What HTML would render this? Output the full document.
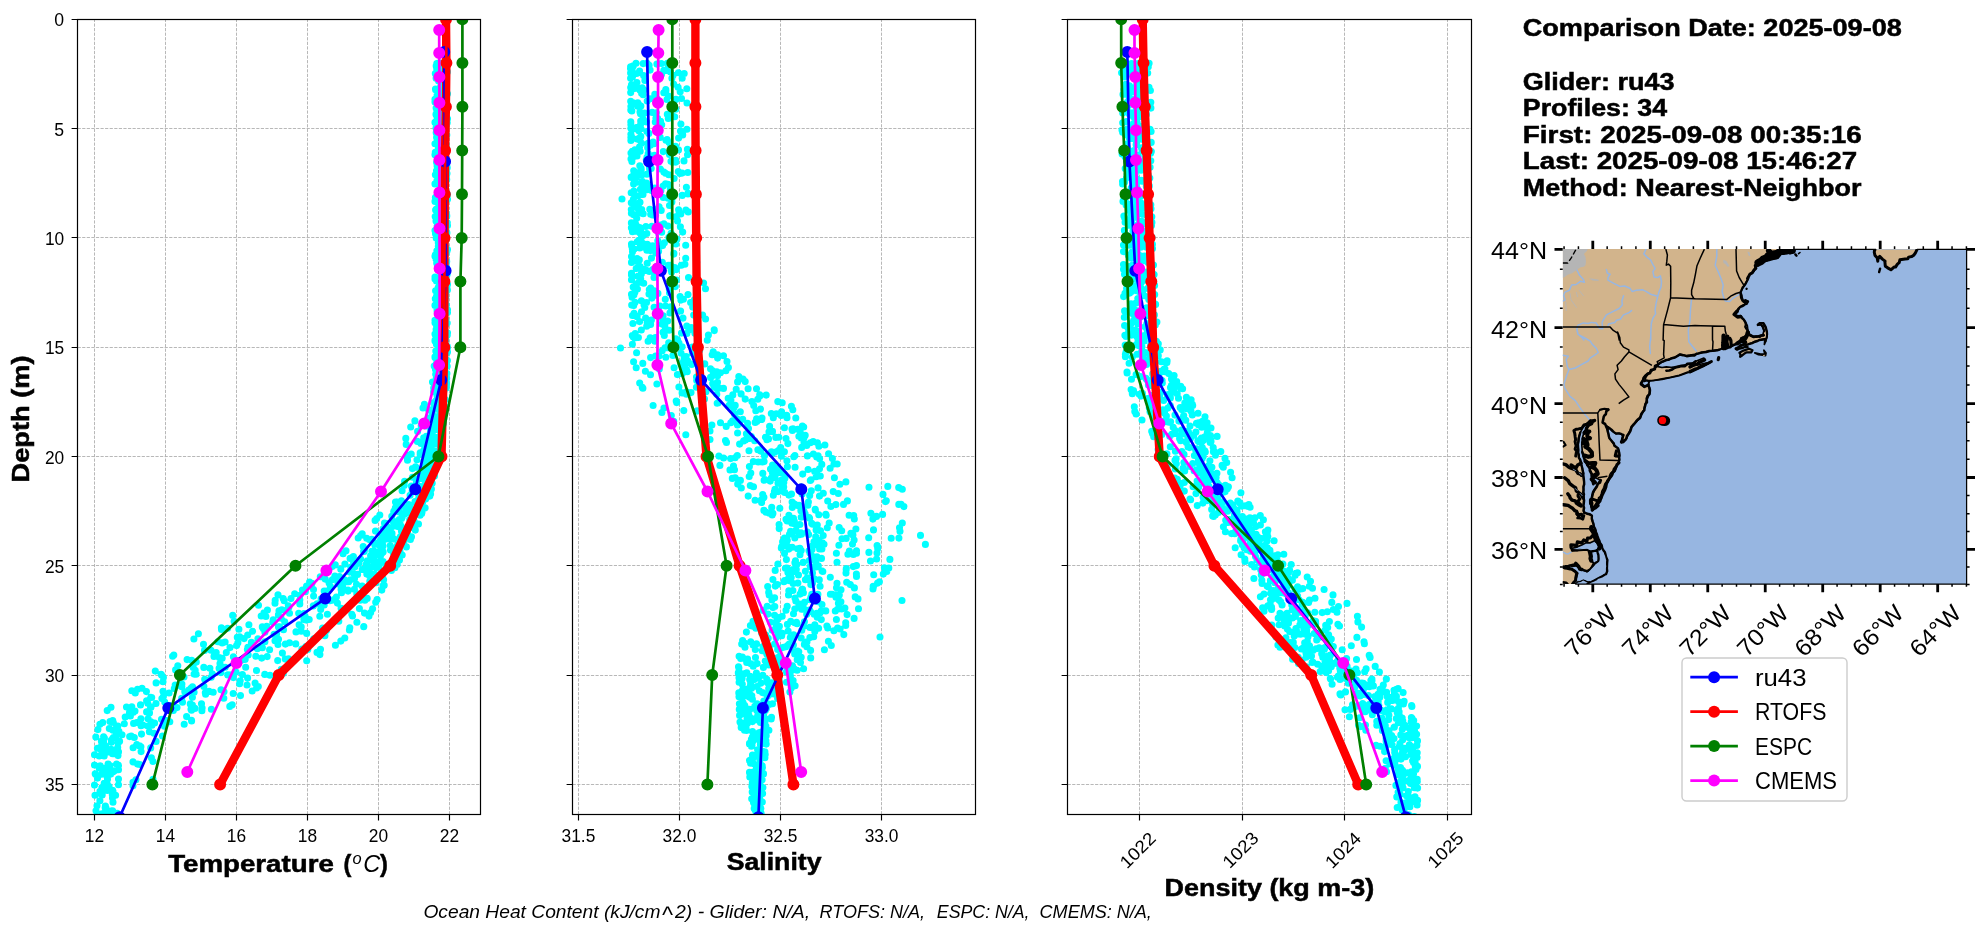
<!DOCTYPE html>
<html><head><meta charset="utf-8"><title>Glider comparison</title>
<style>html,body{margin:0;padding:0;background:#fff}svg{display:block;will-change:transform}</style></head>
<body>
<svg width="1980" height="934" viewBox="0 0 1980 934" font-family="'Liberation Sans', sans-serif">
<rect width="1980" height="934" fill="#fff"/>
<defs>
<clipPath id="c0"><rect x="77.6" y="19.3" width="403.00" height="795.10"/></clipPath>
<clipPath id="c1"><rect x="572.6" y="19.3" width="403.00" height="795.10"/></clipPath>
<clipPath id="c2"><rect x="1067.6" y="19.3" width="403.60" height="795.10"/></clipPath>
</defs>
<path d="M94.5 814.4V19.3M165.5 814.4V19.3M236.5 814.4V19.3M307.5 814.4V19.3M378.5 814.4V19.3M449.5 814.4V19.3M77.6 19.5H480.6M77.6 128.5H480.6M77.6 237.5H480.6M77.6 347.5H480.6M77.6 456.5H480.6M77.6 565.5H480.6M77.6 675.5H480.6M77.6 784.5H480.6" fill="none" stroke="#b0b0b0" stroke-width="0.9" stroke-dasharray="3.2 1.38"/>
<g clip-path="url(#c0)">
<path d="M439.0 70.1h0M437.1 95.3h0M437.6 117.4h0M438.1 136.3h0M438.4 162.9h0M438.2 183.9h0M439.3 203.7h0M439.0 227.5h0M437.1 254.4h0M438.9 280.0h0M438.8 299.3h0M438.1 324.4h0M438.4 350.2h0M436.3 371.1h0M433.7 388.1h0M423.0 408.0h0M425.8 426.0h0M421.0 443.4h0M407.4 459.1h0M412.5 477.2h0M412.2 491.1h0M398.3 507.8h0M384.5 523.1h0M369.3 539.6h0M353.4 556.6h0M340.8 569.2h0M311.9 583.4h0M275.2 600.3h0M264.0 612.7h0M227.6 628.2h0M222.2 642.9h0M187.1 659.6h0M161.5 674.9h0M142.0 688.2h0M146.6 700.8h0M125.2 717.0h0M103.6 736.8h0M104.2 756.0h0M95.5 774.2h0M102.2 795.1h0M443.8 75.2h0M444.1 97.5h0M444.7 114.4h0M442.9 136.7h0M444.0 151.7h0M442.0 171.4h0M443.2 192.4h0M442.3 210.6h0M444.0 232.8h0M443.7 250.4h0M445.2 271.9h0M444.6 292.1h0M444.3 309.8h0M444.0 325.9h0M443.3 342.8h0M442.8 358.0h0M444.1 372.5h0M443.6 389.4h0M439.9 404.7h0M440.2 417.1h0M438.5 428.7h0M435.5 440.5h0M434.0 454.5h0M431.0 469.2h0M428.0 484.4h0M425.6 499.0h0M421.7 513.4h0M411.2 527.4h0M400.4 541.3h0M400.0 551.6h0M397.2 564.4h0M379.8 574.8h0M383.0 585.9h0M364.9 600.3h0M364.5 613.1h0M363.7 626.7h0M344.8 638.0h0M320.5 649.2h0M306.7 660.8h0M264.8 674.4h0M247.0 685.0h0M223.8 698.2h0M211.4 709.3h0M169.8 721.8h0M134.3 737.5h0M116.0 754.0h0M118.5 769.8h0M118.5 784.8h0M445.5 72.7h0M445.6 99.7h0M446.0 119.4h0M445.8 144.0h0M447.2 167.8h0M447.5 194.5h0M447.3 222.7h0M446.3 250.3h0M447.1 274.6h0M445.8 297.2h0M447.2 323.0h0M447.5 347.7h0M447.2 366.3h0M446.5 383.9h0M444.8 406.6h0M443.4 424.1h0M440.4 441.8h0M433.6 460.5h0M430.6 478.7h0M430.6 494.1h0M420.4 512.9h0M415.3 530.1h0M406.4 546.9h0M397.4 561.4h0M383.6 579.8h0M367.2 598.4h0M351.8 614.3h0M326.4 630.5h0M307.8 649.5h0M284.7 668.5h0M258.3 686.6h0M201.5 703.8h0M186.6 716.6h0M149.4 731.8h0M141.1 751.6h0M443.0 65.4h0M441.4 80.5h0M441.4 100.0h0M441.0 120.3h0M440.8 137.9h0M440.7 156.0h0M441.5 175.3h0M441.3 193.7h0M441.8 213.3h0M441.5 230.3h0M441.2 249.4h0M441.1 264.8h0M439.9 284.5h0M442.2 301.3h0M442.5 322.6h0M442.3 340.8h0M441.6 359.3h0M442.2 375.3h0M441.3 392.5h0M438.6 406.6h0M436.4 419.2h0M431.4 434.0h0M430.6 449.2h0M428.4 464.2h0M422.0 478.7h0M423.4 492.7h0M409.9 506.0h0M398.7 520.2h0M389.2 534.4h0M379.8 545.6h0M374.0 556.4h0M367.5 568.3h0M354.5 578.8h0M341.1 589.6h0M317.1 603.7h0M305.1 616.2h0M283.5 629.7h0M264.9 641.8h0M248.2 655.0h0M219.1 668.2h0M204.7 679.2h0M184.8 691.7h0M164.7 702.0h0M146.6 711.9h0M133.6 723.5h0M112.8 738.2h0M102.0 751.0h0M108.1 764.1h0M107.2 777.0h0M112.6 790.4h0M105.9 807.7h0M110.2 824.3h0M436.8 63.5h0M435.6 89.8h0M436.0 114.4h0M436.2 132.7h0M435.0 154.8h0M435.4 174.7h0M435.4 197.5h0M436.6 218.8h0M436.2 238.1h0M435.9 258.7h0M435.0 277.0h0M437.5 302.2h0M436.5 325.5h0M436.4 344.2h0M434.2 366.1h0M434.2 384.8h0M424.4 404.4h0M414.9 420.9h0M405.8 438.4h0M407.1 455.2h0M412.4 468.6h0M404.1 485.4h0M395.5 502.1h0M376.7 518.6h0M360.6 535.5h0M345.7 551.0h0M335.3 564.9h0M309.6 582.1h0M283.2 598.6h0M265.9 616.5h0M221.5 629.5h0M203.5 644.2h0M191.7 660.3h0M179.2 673.5h0M146.4 691.6h0M131.8 706.8h0M113.3 722.5h0M104.4 738.1h0M441.1 67.5h0M441.1 85.1h0M440.3 101.3h0M441.0 120.0h0M440.6 140.6h0M440.4 155.6h0M440.9 173.0h0M442.0 193.0h0M441.8 207.3h0M441.3 227.8h0M441.1 245.1h0M441.5 264.2h0M441.0 281.2h0M440.8 297.9h0M441.1 313.9h0M441.2 331.8h0M441.1 348.0h0M441.4 365.7h0M442.2 379.6h0M442.6 392.2h0M437.7 409.3h0M435.0 424.6h0M432.9 439.4h0M429.7 452.6h0M428.9 464.9h0M426.7 478.8h0M424.9 491.3h0M415.6 502.5h0M404.5 514.3h0M394.7 525.9h0M380.6 539.7h0M374.5 551.7h0M367.5 561.5h0M354.1 573.8h0M330.4 586.6h0M299.8 600.0h0M298.7 613.3h0M266.7 626.2h0M257.9 638.7h0M247.4 649.6h0M196.3 662.1h0M196.1 674.3h0M181.8 686.8h0M161.9 698.6h0M149.5 712.9h0M133.6 723.4h0M113.4 737.5h0M103.3 750.4h0M107.5 766.6h0M107.5 779.2h0M101.3 793.9h0M105.2 807.7h0M100.0 821.6h0M436.1 78.3h0M435.0 99.4h0M435.0 122.4h0M435.0 143.7h0M436.5 170.7h0M435.0 201.4h0M435.0 230.6h0M435.0 256.3h0M435.0 279.1h0M435.0 305.4h0M435.0 334.0h0M435.0 356.7h0M432.5 382.1h0M423.1 407.7h0M410.7 427.0h0M406.2 444.4h0M407.5 460.3h0M404.6 481.4h0M401.4 500.7h0M379.8 515.1h0M362.2 533.8h0M346.0 550.8h0M332.1 566.6h0M306.6 586.1h0M258.5 605.2h0M234.1 621.3h0M193.9 639.0h0M172.6 656.2h0M161.1 674.2h0M137.5 689.2h0M111.0 707.3h0M99.9 724.2h0M97.4 748.2h0M95.2 773.8h0M446.9 64.1h0M444.4 91.8h0M445.1 114.8h0M446.1 144.4h0M447.0 166.9h0M444.6 189.2h0M443.8 210.0h0M446.2 235.5h0M446.7 261.5h0M447.5 284.6h0M447.5 309.7h0M445.8 333.0h0M447.4 360.6h0M445.9 387.2h0M443.3 404.7h0M441.9 426.6h0M439.6 445.2h0M437.2 460.3h0M434.5 476.1h0M429.8 496.1h0M422.0 512.3h0M407.4 532.7h0M394.6 548.3h0M378.8 567.0h0M369.8 581.2h0M360.1 600.3h0M352.5 615.9h0M324.9 635.7h0M317.0 652.4h0M281.3 669.2h0M221.0 689.7h0M202.1 708.1h0M164.4 726.3h0M150.7 747.9h0M444.0 63.3h0M445.9 83.3h0M443.8 106.8h0M445.8 127.5h0M444.6 153.1h0M446.7 179.5h0M442.4 203.4h0M444.5 230.7h0M443.8 258.8h0M445.1 281.6h0M445.3 301.2h0M445.8 324.8h0M447.3 346.4h0M445.5 365.2h0M446.5 384.3h0M444.1 405.5h0M442.8 421.5h0M440.5 443.8h0M435.5 462.0h0M431.2 480.9h0M426.6 494.9h0M419.5 508.9h0M414.5 525.0h0M403.8 542.5h0M399.5 560.1h0M382.9 578.4h0M356.8 593.7h0M359.4 608.6h0M356.9 622.2h0M314.3 639.1h0M288.6 658.9h0M247.6 678.1h0M233.2 693.5h0M201.9 710.7h0M165.0 725.5h0M139.6 745.9h0M139.8 764.5h0M133.0 785.8h0M441.1 78.0h0M443.9 97.9h0M445.5 119.0h0M444.4 143.2h0M443.5 162.4h0M442.7 186.0h0M443.3 211.1h0M442.7 229.5h0M443.2 250.6h0M443.4 275.4h0M442.9 293.4h0M443.1 317.0h0M441.6 340.3h0M440.3 357.8h0M441.3 380.5h0M440.2 402.0h0M438.4 419.1h0M435.0 437.4h0M431.2 452.3h0M431.0 468.3h0M426.7 481.5h0M420.8 497.4h0M413.0 510.4h0M401.3 526.5h0M386.4 539.0h0M374.0 554.9h0M362.2 569.5h0M338.0 583.9h0M323.1 599.9h0M304.0 613.6h0M279.5 626.7h0M251.4 642.3h0M235.4 659.8h0M211.2 677.2h0M206.0 691.5h0M190.3 703.9h0M148.1 718.8h0M122.0 734.8h0M111.7 749.6h0M109.9 765.5h0M107.2 784.1h0M113.0 802.3h0M107.5 823.4h0M443.3 68.2h0M444.3 85.1h0M443.8 104.9h0M443.4 122.8h0M443.7 146.7h0M441.9 169.6h0M440.6 189.6h0M442.3 210.4h0M440.1 228.0h0M441.2 246.1h0M441.6 265.0h0M441.4 287.4h0M442.7 311.5h0M444.0 333.3h0M444.4 352.4h0M444.4 370.0h0M444.2 386.9h0M439.9 405.9h0M438.0 422.4h0M434.2 439.9h0M432.4 453.4h0M430.9 465.4h0M430.6 478.6h0M425.2 492.4h0M419.1 504.1h0M409.7 519.8h0M401.5 531.3h0M390.3 545.5h0M381.5 561.7h0M369.2 574.8h0M348.1 591.1h0M324.2 605.0h0M309.2 619.5h0M301.2 631.3h0M278.0 644.5h0M244.9 659.4h0M227.8 674.9h0M209.1 691.4h0M192.4 705.0h0M161.5 719.3h0M131.2 736.0h0M112.5 753.8h0M110.8 774.1h0M115.6 795.3h0M110.9 811.1h0M445.4 66.8h0M444.4 83.3h0M444.7 99.2h0M444.6 118.1h0M443.5 136.4h0M444.1 155.7h0M444.3 172.1h0M443.4 189.1h0M443.8 208.8h0M443.3 227.2h0M444.1 249.0h0M442.7 266.9h0M441.4 287.7h0M442.4 308.2h0M444.7 325.9h0M442.3 345.6h0M442.1 364.4h0M442.4 379.5h0M442.2 395.4h0M440.0 413.2h0M435.7 429.7h0M434.0 443.3h0M431.6 457.5h0M428.9 471.3h0M426.5 484.6h0M419.2 499.8h0M411.3 512.6h0M400.2 524.3h0M390.8 539.0h0M380.0 551.6h0M378.0 562.1h0M366.8 574.0h0M356.5 584.2h0M327.1 597.7h0M320.7 609.5h0M306.5 620.1h0M296.0 631.9h0M289.5 642.7h0M282.4 653.1h0M245.7 667.2h0M240.2 680.7h0M205.6 694.2h0M191.0 709.3h0M166.6 720.5h0M129.7 736.6h0M118.5 751.9h0M118.5 765.4h0M118.5 779.0h0M112.3 794.8h0M117.2 813.3h0M436.2 65.9h0M435.5 89.0h0M436.1 108.0h0M436.6 132.3h0M437.9 155.9h0M436.7 183.1h0M435.6 210.0h0M436.7 236.3h0M435.7 256.9h0M437.0 279.0h0M436.2 303.7h0M435.0 322.7h0M435.0 341.1h0M436.5 363.4h0M437.9 384.0h0M434.0 403.3h0M428.1 418.1h0M423.7 437.9h0M420.2 452.9h0M420.7 469.6h0M411.3 486.0h0M397.1 502.2h0M375.1 520.4h0M358.2 538.0h0M343.1 553.7h0M328.3 570.5h0M311.2 584.2h0M291.0 598.6h0M279.0 610.9h0M238.9 629.2h0M217.9 641.8h0M219.3 657.6h0M194.1 674.1h0M163.0 691.3h0M150.5 706.8h0M112.7 720.5h0M101.4 741.2h0M94.5 765.0h0M94.5 785.1h0M97.0 805.7h0M100.9 824.4h0M444.1 78.2h0M445.3 97.0h0M444.8 115.5h0M443.8 135.9h0M442.8 156.7h0M444.6 175.0h0M444.3 195.8h0M444.5 212.4h0M445.9 231.0h0M447.0 251.1h0M446.6 267.1h0M447.0 288.2h0M445.5 308.3h0M445.6 323.2h0M445.7 338.6h0M445.2 359.1h0M444.2 372.1h0M443.6 387.0h0M442.6 400.1h0M440.7 415.9h0M439.6 428.4h0M436.5 439.8h0M434.7 450.8h0M432.4 461.1h0M432.1 475.8h0M430.4 485.7h0M422.3 498.3h0M414.7 512.4h0M398.4 526.7h0M394.1 539.1h0M381.8 553.3h0M388.5 565.7h0M369.3 575.6h0M354.4 589.2h0M332.8 600.1h0M327.4 614.2h0M322.6 628.0h0M313.7 638.7h0M301.9 649.1h0M294.4 659.8h0M282.4 672.4h0M255.1 683.0h0M240.5 695.6h0M229.8 706.4h0M191.5 720.4h0M154.0 733.3h0M140.9 746.7h0M137.6 764.1h0M133.0 782.3h0M442.7 78.3h0M444.0 99.1h0M445.3 126.6h0M445.2 152.6h0M445.6 173.7h0M443.9 197.4h0M445.1 222.7h0M445.6 246.8h0M446.0 272.6h0M443.4 298.4h0M443.7 317.4h0M444.7 339.2h0M445.2 359.4h0M444.7 382.1h0M443.0 401.3h0M439.7 419.2h0M432.3 436.4h0M429.1 453.6h0M429.0 470.5h0M426.8 485.0h0M415.7 501.9h0M399.0 520.8h0M389.4 536.8h0M375.8 551.7h0M372.8 566.6h0M347.6 581.7h0M325.8 596.2h0M303.7 614.7h0M264.9 632.2h0M262.4 647.8h0M238.2 661.7h0M231.0 675.0h0M194.1 692.2h0M166.7 708.3h0M141.0 725.8h0M118.2 743.1h0M116.6 764.0h0M109.1 786.5h0M112.6 810.7h0M441.1 63.2h0M439.4 88.4h0M441.5 116.0h0M441.5 143.7h0M439.7 163.0h0M442.3 184.5h0M440.8 212.2h0M441.3 237.9h0M441.7 264.7h0M440.5 286.2h0M438.8 313.4h0M438.3 334.7h0M438.2 362.4h0M438.5 385.6h0M435.2 405.7h0M429.6 424.7h0M427.1 444.0h0M417.0 459.7h0M422.2 475.5h0M418.2 493.3h0M399.2 512.1h0M383.1 528.8h0M374.7 544.5h0M358.8 563.3h0M343.4 582.4h0M321.1 598.8h0M289.5 613.3h0M278.5 626.9h0M236.6 645.6h0M220.0 663.6h0M184.0 677.0h0M169.1 693.0h0M147.5 711.5h0M118.9 731.2h0M100.9 749.4h0M101.7 774.2h0M441.9 72.8h0M443.5 91.3h0M443.6 111.1h0M443.7 129.6h0M443.0 147.4h0M442.7 166.6h0M441.7 181.7h0M442.0 196.3h0M441.8 213.9h0M442.2 234.9h0M443.7 251.2h0M442.9 268.6h0M443.7 284.3h0M442.6 300.5h0M441.5 316.5h0M442.6 337.5h0M442.8 356.9h0M443.8 372.2h0M441.0 389.7h0M441.0 404.3h0M438.4 419.2h0M432.7 431.5h0M429.7 445.7h0M427.7 459.2h0M426.1 472.9h0M425.2 486.1h0M419.7 496.7h0M409.6 510.8h0M397.2 525.0h0M391.8 535.8h0M383.0 546.0h0M380.4 556.2h0M376.5 567.6h0M348.7 581.7h0M341.5 592.7h0M337.4 603.1h0M319.8 616.3h0M301.2 626.9h0M278.5 639.3h0M269.6 649.8h0M237.5 662.2h0M236.0 672.1h0M203.9 686.4h0M181.7 698.4h0M173.3 710.5h0M142.9 725.0h0M119.6 741.2h0M118.0 755.6h0M112.8 772.0h0M437.9 70.4h0M439.0 89.9h0M438.9 115.7h0M438.5 142.2h0M437.1 166.0h0M437.7 194.0h0M436.0 221.0h0M438.3 242.7h0M437.8 267.6h0M438.2 287.5h0M438.1 306.5h0M438.1 328.7h0M437.2 350.8h0M435.5 369.6h0M437.5 387.4h0M434.1 407.4h0M429.2 424.8h0M428.7 441.2h0M426.9 460.0h0M423.5 478.4h0M420.0 493.8h0M405.0 512.8h0M390.4 527.9h0M375.1 542.8h0M360.1 559.6h0M339.5 576.6h0M313.5 589.5h0M288.3 605.7h0M273.2 619.8h0M239.7 636.8h0M216.2 652.6h0M203.8 667.4h0M163.0 681.7h0M150.8 697.3h0M135.0 711.1h0M116.4 728.3h0M105.6 746.1h0M439.9 75.5h0M438.3 94.2h0M439.3 117.9h0M437.9 135.7h0M439.6 157.7h0M438.2 180.8h0M438.5 200.6h0M438.8 224.5h0M440.2 247.2h0M440.0 263.6h0M440.1 282.7h0M441.0 306.2h0M440.2 327.4h0M440.9 346.0h0M440.6 363.5h0M440.8 379.2h0M440.1 393.3h0M438.5 407.8h0M432.5 423.1h0M430.8 437.0h0M429.4 450.5h0M426.9 465.2h0M423.9 479.2h0M421.7 494.5h0M408.0 510.8h0M396.4 521.9h0M391.5 537.0h0M373.6 550.8h0M366.1 564.5h0M344.4 579.7h0M326.4 591.0h0M313.3 605.9h0M284.7 621.8h0M276.6 634.0h0M247.9 647.3h0M245.2 659.3h0M220.9 672.6h0M192.5 686.9h0M182.5 702.3h0M140.9 718.7h0M115.8 736.0h0M108.1 751.9h0M108.2 770.3h0M107.3 790.5h0M105.4 806.1h0M441.4 73.5h0M440.6 94.4h0M440.8 113.6h0M440.6 135.0h0M441.1 157.4h0M440.9 177.1h0M439.3 200.3h0M440.1 225.1h0M440.5 249.7h0M440.9 272.7h0M440.1 298.3h0M439.9 321.9h0M440.2 346.4h0M440.3 368.4h0M439.9 388.4h0M438.5 407.4h0M434.5 425.3h0M431.3 438.5h0M429.7 456.7h0M427.0 473.3h0M426.9 486.2h0M418.7 498.3h0M406.7 513.0h0M390.7 528.0h0M381.8 543.2h0M372.7 560.4h0M357.6 574.4h0M342.7 587.0h0M334.0 599.6h0M303.8 617.0h0M274.1 634.4h0M257.3 648.7h0M240.8 660.5h0M212.3 673.9h0M188.8 690.1h0M169.8 705.5h0M136.8 722.5h0M111.4 740.0h0M438.6 63.6h0M439.8 93.2h0M440.2 121.7h0M440.0 151.8h0M441.4 182.4h0M440.6 210.8h0M441.1 243.4h0M440.0 268.5h0M440.2 298.5h0M440.0 329.6h0M439.9 358.9h0M438.8 381.8h0M437.2 405.5h0M433.0 423.9h0M425.3 446.1h0M424.0 465.3h0M419.9 486.5h0M407.2 508.3h0M387.7 530.0h0M364.4 550.6h0M355.0 566.7h0M329.1 582.9h0M284.2 600.8h0M281.1 618.2h0M247.7 635.0h0M211.0 650.3h0M175.6 669.9h0M175.2 685.1h0M140.5 704.9h0M110.0 721.5h0M102.9 743.1h0M104.6 770.7h0M100.0 791.2h0M436.7 76.9h0M437.2 99.5h0M437.1 117.7h0M436.6 137.4h0M438.4 158.0h0M437.4 179.9h0M440.1 198.3h0M438.9 224.8h0M438.7 243.6h0M437.7 269.2h0M436.9 291.1h0M437.0 309.3h0M435.5 335.3h0M437.2 360.5h0M434.8 384.2h0M433.3 402.8h0M425.8 422.0h0M424.1 442.4h0M424.1 461.5h0M421.7 478.5h0M418.8 492.0h0M395.4 507.8h0M394.5 521.6h0M384.9 534.0h0M364.2 551.5h0M344.9 564.1h0M333.5 579.1h0M300.0 595.3h0M281.8 609.8h0M272.8 622.2h0M244.1 638.6h0M226.3 652.6h0M193.2 667.4h0M179.4 685.4h0M147.8 703.2h0M130.4 716.0h0M113.0 730.2h0M101.1 746.9h0M99.2 768.0h0M101.9 787.6h0M107.5 811.2h0M445.9 70.4h0M447.5 93.8h0M447.2 122.7h0M446.8 148.5h0M447.0 173.6h0M447.5 199.2h0M447.5 225.5h0M447.5 249.5h0M446.9 268.9h0M447.4 290.1h0M447.5 312.6h0M447.5 332.8h0M447.5 352.1h0M446.7 378.3h0M445.3 399.5h0M443.7 419.0h0M438.9 437.6h0M437.6 453.8h0M433.2 473.5h0M431.4 489.0h0M425.1 507.9h0M418.5 524.0h0M410.4 539.4h0M402.2 555.0h0M391.4 570.5h0M381.8 590.1h0M372.6 608.8h0M363.8 626.5h0M340.8 641.1h0M319.9 654.6h0M283.3 673.3h0M252.2 691.0h0M231.4 705.3h0M184.2 724.3h0M156.1 741.4h0M153.0 761.5h0M153.0 779.8h0M437.6 63.3h0M438.6 81.0h0M438.0 104.1h0M438.8 122.7h0M437.3 140.8h0M436.6 162.6h0M435.0 183.9h0M437.4 208.2h0M437.2 226.1h0M438.3 246.5h0M436.7 263.0h0M436.4 280.9h0M435.3 298.7h0M435.0 320.3h0M435.0 340.3h0M435.0 357.6h0M435.7 374.3h0M434.1 391.1h0M428.7 409.9h0M421.2 425.7h0M417.4 441.4h0M411.2 454.1h0M416.0 467.3h0M417.7 478.8h0M402.1 490.8h0M397.4 502.3h0M391.8 516.3h0M375.5 531.1h0M363.2 546.6h0M353.6 562.8h0M334.9 576.1h0M302.4 590.1h0M299.8 603.9h0M278.4 614.9h0M252.6 631.3h0M252.7 644.9h0M233.4 656.8h0M209.9 668.2h0M181.9 684.0h0M163.4 696.6h0M129.5 712.5h0M117.8 726.1h0M103.6 742.6h0M442.8 71.1h0M441.6 95.6h0M443.4 127.5h0M443.8 159.9h0M443.5 183.7h0M443.8 207.7h0M444.3 236.9h0M443.1 266.2h0M443.7 291.4h0M443.1 314.5h0M442.4 341.9h0M442.0 372.9h0M441.8 395.7h0M436.7 416.9h0M429.7 436.2h0M429.7 453.8h0M426.8 470.0h0M421.7 486.9h0M408.7 504.5h0M393.5 522.4h0M382.3 539.5h0M367.3 560.8h0M350.3 579.7h0M329.9 600.7h0M303.9 619.6h0M275.0 640.7h0M255.8 656.3h0M242.4 674.6h0M205.3 692.8h0M177.0 707.6h0M147.9 726.1h0M111.0 749.3h0M110.0 773.1h0M112.5 798.0h0M116.8 824.5h0M444.1 73.1h0M441.4 97.9h0M442.1 124.1h0M442.5 150.2h0M443.5 176.2h0M443.6 200.7h0M442.4 225.8h0M443.3 246.1h0M442.5 271.4h0M442.0 297.3h0M442.6 320.7h0M443.9 349.1h0M443.5 373.9h0M443.1 395.1h0M439.6 411.5h0M435.8 428.1h0M433.8 443.9h0M428.9 465.3h0M425.5 482.6h0M415.0 501.6h0M402.2 517.2h0M392.0 533.4h0M383.1 551.9h0M369.2 570.7h0M348.0 590.0h0M321.2 605.3h0M299.1 624.8h0M285.4 644.1h0M261.7 658.1h0M233.4 677.6h0M224.0 691.7h0M191.5 710.2h0M152.0 725.2h0M117.7 747.6h0M114.1 770.9h0M113.0 791.2h0M112.3 816.9h0M436.7 68.5h0M438.0 92.4h0M436.7 110.0h0M436.4 129.5h0M438.4 151.6h0M436.8 175.8h0M437.6 192.9h0M437.3 211.4h0M437.4 228.7h0M436.9 250.8h0M438.2 268.1h0M437.8 292.9h0M437.1 310.9h0M436.1 329.5h0M438.2 350.2h0M437.0 370.3h0M439.7 386.8h0M435.9 400.9h0M431.1 420.9h0M426.3 436.2h0M424.0 449.9h0M415.5 466.8h0M416.4 481.5h0M410.1 495.3h0M393.7 511.4h0M387.1 526.6h0M371.8 539.3h0M363.6 551.6h0M350.8 567.3h0M332.3 579.7h0M294.7 593.7h0M267.4 610.1h0M248.9 624.8h0M237.3 637.3h0M204.5 650.4h0M177.8 665.8h0M163.4 677.6h0M135.3 693.0h0M126.5 707.0h0M102.7 722.6h0M95.8 737.1h0M99.2 756.0h0M97.5 778.1h0M95.0 795.2h0M96.0 810.7h0M438.9 74.2h0M437.4 96.7h0M438.9 113.5h0M438.1 130.7h0M438.2 149.0h0M437.6 168.1h0M438.6 192.8h0M435.2 216.5h0M436.1 234.0h0M435.4 254.8h0M435.4 278.8h0M436.5 296.3h0M438.3 320.3h0M437.4 340.1h0M435.7 357.9h0M436.3 377.8h0M437.1 395.6h0M432.5 414.4h0M430.6 430.9h0M427.9 447.3h0M424.2 464.7h0M425.7 480.1h0M420.8 493.7h0M410.4 507.7h0M399.2 519.6h0M382.3 534.6h0M371.9 551.3h0M352.2 566.5h0M325.2 579.1h0M305.4 591.7h0M275.0 603.2h0M261.2 616.0h0M221.4 627.9h0M225.1 642.0h0M214.0 656.4h0M195.2 670.2h0M156.1 682.9h0M151.7 697.5h0M133.4 712.2h0M109.3 728.6h0M101.9 744.0h0M100.2 765.7h0M104.2 783.4h0M99.9 800.8h0M102.2 819.2h0M439.2 76.8h0M438.1 106.4h0M438.7 132.5h0M439.4 158.9h0M441.3 188.3h0M440.5 218.2h0M440.8 244.6h0M440.9 264.6h0M441.6 287.3h0M440.5 314.1h0M440.6 337.4h0M439.4 357.3h0M441.1 382.4h0M439.2 400.4h0M434.6 420.4h0M427.5 439.7h0M426.8 456.4h0M425.0 473.8h0M420.1 493.3h0M409.8 509.2h0M398.9 524.1h0M382.4 543.6h0M360.6 559.0h0M337.1 577.1h0M313.6 596.1h0M287.0 609.9h0M262.3 626.9h0M237.9 642.7h0M222.2 658.3h0M195.2 673.8h0M174.3 688.6h0M156.0 703.5h0M124.3 723.7h0M111.4 742.3h0M105.4 768.3h0M106.4 789.7h0M101.9 813.7h0M435.3 73.5h0M435.0 101.9h0M436.0 128.1h0M435.3 152.3h0M437.1 180.1h0M436.1 209.2h0M435.5 233.8h0M437.3 264.9h0M435.6 290.7h0M436.3 321.5h0M435.8 351.0h0M436.8 372.5h0M433.6 391.7h0M431.0 410.0h0M417.6 431.4h0M420.2 454.4h0M420.1 473.5h0M414.8 491.5h0M401.9 506.4h0M385.8 523.4h0M366.7 538.2h0M350.1 558.4h0M320.3 576.7h0M278.0 594.9h0M232.7 615.4h0M198.4 633.7h0M173.8 655.1h0M155.3 671.1h0M131.8 690.8h0M107.2 710.6h0M97.9 729.6h0M94.5 754.8h0M445.6 63.2h0M444.7 83.8h0M443.7 110.8h0M444.1 134.9h0M444.6 162.1h0M444.4 188.0h0M446.1 212.5h0M444.1 232.0h0M444.4 252.5h0M444.3 274.6h0M443.7 294.6h0M444.1 314.3h0M444.0 340.2h0M444.0 365.9h0M443.5 387.2h0M441.4 405.8h0M436.9 425.6h0M436.4 443.3h0M433.2 461.5h0M432.5 475.9h0M428.5 493.1h0M415.2 511.3h0M405.7 529.4h0M397.5 545.3h0M385.9 564.8h0M376.0 582.8h0M375.7 602.3h0M369.0 616.1h0M349.4 630.0h0M305.9 646.5h0M277.7 660.6h0M229.8 675.0h0M213.2 692.2h0M172.5 706.4h0M154.6 723.0h0M136.8 744.6h0M440.3 72.8h0M440.8 96.6h0M440.5 119.1h0M440.4 149.8h0M440.1 180.0h0M441.1 212.0h0M441.5 235.7h0M439.9 268.6h0M438.6 290.8h0M439.0 318.7h0M439.2 343.0h0M440.5 373.6h0M439.5 398.9h0M436.5 417.3h0M431.4 440.9h0M429.1 457.2h0M425.1 476.5h0M419.2 498.0h0M401.6 518.4h0M386.2 536.0h0M370.6 555.7h0M349.7 572.1h0M324.2 591.0h0M288.8 607.5h0M263.4 628.8h0M230.0 647.6h0M225.2 667.3h0M191.2 688.0h0M151.0 707.2h0M116.7 728.3h0M102.1 749.7h0M447.3 71.9h0M446.6 95.3h0M445.4 114.2h0M444.6 139.7h0M445.8 160.2h0M444.9 179.8h0M443.0 197.9h0M443.7 218.5h0M445.2 243.4h0M446.8 269.8h0M445.8 293.0h0M446.4 313.0h0M447.3 335.0h0M446.4 353.2h0M446.0 373.3h0M443.9 390.9h0M444.2 407.9h0M442.3 422.0h0M439.9 436.1h0M437.1 453.9h0M435.7 466.7h0M432.2 483.3h0M429.3 495.5h0M423.7 508.3h0M414.2 521.3h0M411.5 536.8h0M393.5 553.5h0M394.9 567.8h0M384.2 585.3h0M377.1 599.6h0M370.7 612.5h0M349.8 627.8h0M335.4 645.3h0M285.3 659.1h0M270.0 675.2h0M256.6 687.9h0M232.2 704.7h0M191.6 720.9h0M162.5 736.0h0M151.4 757.7h0M153.0 779.4h0M446.7 64.4h0M445.8 85.9h0M445.8 103.9h0M447.5 118.8h0M446.8 135.0h0M444.9 155.3h0M445.4 174.4h0M445.9 195.4h0M446.8 215.9h0M446.9 232.9h0M446.1 253.8h0M445.9 268.2h0M445.1 285.0h0M446.4 305.0h0M445.9 319.5h0M445.8 339.9h0M446.9 360.0h0M446.9 373.6h0M446.2 388.1h0M443.2 401.0h0M441.5 413.3h0M439.2 429.5h0M438.6 443.8h0M434.9 455.2h0M433.8 465.5h0M432.5 476.8h0M429.8 488.4h0M422.7 502.0h0M420.1 515.2h0M409.5 525.8h0M400.3 536.8h0M390.5 550.1h0M383.1 561.5h0M374.6 573.9h0M362.2 586.1h0M336.4 597.1h0M341.1 608.2h0M338.8 621.2h0M306.7 633.4h0M295.8 643.9h0M267.2 656.6h0M256.5 670.5h0M239.6 683.7h0M192.4 697.2h0M194.9 708.4h0M150.9 721.9h0M141.5 734.1h0M133.1 747.7h0M133.0 761.9h0M135.9 779.7h0" stroke="#00ffff" stroke-width="7.1" stroke-linecap="round" fill="none"/>
<polyline points="446.0,19.3 446.4,63.0 445.9,106.7 445.1,150.5 444.8,194.2 444.5,237.9 444.4,281.6 444.3,347.2 441.5,456.5 390.2,565.8 278.8,675.1 220.1,784.4" fill="none" stroke="#ff0000" stroke-width="8.4" stroke-linejoin="round"/>
<polyline points="444.2,52.1 445.1,161.4 445.6,270.7 441.2,380.0 415.3,489.3 325.2,598.6 168.3,707.9 119.6,817.2" fill="none" stroke="#0000ff" stroke-width="2.7" stroke-linejoin="round"/>
<path d="M444.2 52.1h0M445.1 161.4h0M445.6 270.7h0M441.2 380.0h0M415.3 489.3h0M325.2 598.6h0M168.3 707.9h0M119.6 817.2h0" stroke="#0000ff" stroke-width="12" stroke-linecap="round" fill="none"/>
<polyline points="446.0,19.3 446.4,63.0 445.9,106.7 445.1,150.5 444.8,194.2 444.5,237.9 444.4,281.6 444.3,347.2 441.5,456.5 390.2,565.8 278.8,675.1 220.1,784.4" fill="none" stroke="#ff0000" stroke-width="2.7" stroke-linejoin="round"/>
<path d="M446.0 19.3h0M446.4 63.0h0M445.9 106.7h0M445.1 150.5h0M444.8 194.2h0M444.5 237.9h0M444.4 281.6h0M444.3 347.2h0M441.5 456.5h0M390.2 565.8h0M278.8 675.1h0M220.1 784.4h0" stroke="#ff0000" stroke-width="12" stroke-linecap="round" fill="none"/>
<polyline points="462.4,19.3 462.4,63.0 462.4,106.7 462.2,150.5 462.0,194.2 461.7,237.9 460.4,281.6 460.4,347.2 438.4,456.5 295.5,565.8 179.9,675.1 152.4,784.4" fill="none" stroke="#008000" stroke-width="2.7" stroke-linejoin="round"/>
<path d="M462.4 19.3h0M462.4 63.0h0M462.4 106.7h0M462.2 150.5h0M462.0 194.2h0M461.7 237.9h0M460.4 281.6h0M460.4 347.2h0M438.4 456.5h0M295.5 565.8h0M179.9 675.1h0M152.4 784.4h0" stroke="#008000" stroke-width="12" stroke-linecap="round" fill="none"/>
<polyline points="439.2,30.1 439.2,53.0 439.4,77.1 439.4,102.8 439.4,130.3 439.4,160.1 439.4,192.6 439.5,228.6 439.6,268.6 439.6,313.7 439.1,364.9 424.2,423.6 381.0,491.5 326.4,570.4 236.5,663.0 187.3,772.0" fill="none" stroke="#ff00ff" stroke-width="2.7" stroke-linejoin="round"/>
<path d="M439.2 30.1h0M439.2 53.0h0M439.4 77.1h0M439.4 102.8h0M439.4 130.3h0M439.4 160.1h0M439.4 192.6h0M439.5 228.6h0M439.6 268.6h0M439.6 313.7h0M439.1 364.9h0M424.2 423.6h0M381.0 491.5h0M326.4 570.4h0M236.5 663.0h0M187.3 772.0h0" stroke="#ff00ff" stroke-width="12" stroke-linecap="round" fill="none"/>
</g>
<rect x="77.5" y="19.5" width="403.00" height="795.00" fill="none" stroke="#000" stroke-width="1.2"/>
<path d="M94.5 814.4v6M165.5 814.4v6M236.5 814.4v6M307.5 814.4v6M378.5 814.4v6M449.5 814.4v6M77.6 19.5h-6M77.6 128.5h-6M77.6 237.5h-6M77.6 347.5h-6M77.6 456.5h-6M77.6 565.5h-6M77.6 675.5h-6M77.6 784.5h-6" fill="none" stroke="#000" stroke-width="1.15"/>
<text x="94.40" y="841.90" font-size="17.66" text-anchor="middle" textLength="19.30" lengthAdjust="spacingAndGlyphs" fill="#000">12</text>
<text x="165.42" y="841.90" font-size="17.66" text-anchor="middle" textLength="19.30" lengthAdjust="spacingAndGlyphs" fill="#000">14</text>
<text x="236.44" y="841.90" font-size="17.66" text-anchor="middle" textLength="19.30" lengthAdjust="spacingAndGlyphs" fill="#000">16</text>
<text x="307.46" y="841.90" font-size="17.66" text-anchor="middle" textLength="19.30" lengthAdjust="spacingAndGlyphs" fill="#000">18</text>
<text x="378.48" y="841.90" font-size="17.66" text-anchor="middle" textLength="19.30" lengthAdjust="spacingAndGlyphs" fill="#000">20</text>
<text x="449.50" y="841.90" font-size="17.66" text-anchor="middle" textLength="19.30" lengthAdjust="spacingAndGlyphs" fill="#000">22</text>
<text x="64.20" y="26.30" font-size="17.66" text-anchor="end" fill="#000">0</text>
<text x="64.20" y="135.60" font-size="17.66" text-anchor="end" fill="#000">5</text>
<text x="64.20" y="244.90" font-size="17.66" text-anchor="end" textLength="19.30" lengthAdjust="spacingAndGlyphs" fill="#000">10</text>
<text x="64.20" y="354.20" font-size="17.66" text-anchor="end" textLength="19.30" lengthAdjust="spacingAndGlyphs" fill="#000">15</text>
<text x="64.20" y="463.50" font-size="17.66" text-anchor="end" textLength="19.30" lengthAdjust="spacingAndGlyphs" fill="#000">20</text>
<text x="64.20" y="572.80" font-size="17.66" text-anchor="end" textLength="19.30" lengthAdjust="spacingAndGlyphs" fill="#000">25</text>
<text x="64.20" y="682.10" font-size="17.66" text-anchor="end" textLength="19.30" lengthAdjust="spacingAndGlyphs" fill="#000">30</text>
<text x="64.20" y="791.40" font-size="17.66" text-anchor="end" textLength="19.30" lengthAdjust="spacingAndGlyphs" fill="#000">35</text>
<path d="M578.5 814.4V19.3M679.5 814.4V19.3M780.5 814.4V19.3M881.5 814.4V19.3M572.6 19.5H975.6M572.6 128.5H975.6M572.6 237.5H975.6M572.6 347.5H975.6M572.6 456.5H975.6M572.6 565.5H975.6M572.6 675.5H975.6M572.6 784.5H975.6" fill="none" stroke="#b0b0b0" stroke-width="0.9" stroke-dasharray="3.2 1.38"/>
<g clip-path="url(#c1)">
<path d="M650.1 70.1h0M654.5 97.1h0M660.6 121.3h0M653.1 142.0h0M660.3 169.0h0M654.8 188.0h0M661.2 210.4h0M661.7 232.3h0M673.9 253.2h0M654.0 277.5h0M665.3 299.3h0M667.7 321.1h0M672.7 343.5h0M687.9 361.0h0M717.5 382.2h0M745.2 399.1h0M756.6 418.9h0M775.8 437.4h0M793.8 456.8h0M784.3 474.1h0M801.2 487.1h0M807.9 505.2h0M809.6 518.3h0M823.2 535.5h0M819.6 549.0h0M817.5 566.8h0M819.3 579.9h0M832.1 594.3h0M825.8 610.9h0M814.8 624.9h0M805.4 643.0h0M798.8 656.0h0M797.1 670.2h0M791.3 688.0h0M767.4 705.6h0M764.9 722.9h0M760.3 741.6h0M759.9 760.4h0M759.4 782.0h0M759.8 798.6h0M673.1 75.2h0M663.8 92.8h0M656.3 112.8h0M658.0 132.6h0M663.3 151.6h0M663.9 172.0h0M660.9 190.3h0M669.5 205.5h0M663.9 223.7h0M675.9 243.9h0M696.7 262.3h0M696.5 277.6h0M688.0 294.6h0M693.7 315.1h0M708.4 335.1h0M717.6 354.7h0M725.9 370.8h0M748.1 388.7h0M782.2 402.7h0M786.7 415.2h0M784.4 427.7h0M810.3 442.7h0M828.6 453.8h0M830.1 468.3h0M811.0 479.8h0M833.2 491.6h0M835.9 504.6h0M849.1 515.3h0M855.9 529.0h0M852.5 544.1h0M853.4 554.5h0M846.2 569.6h0M837.0 583.3h0M830.4 594.2h0M844.9 608.1h0M854.1 618.4h0M833.9 630.8h0M807.0 641.8h0M779.6 656.3h0M780.1 667.4h0M789.8 680.2h0M775.7 690.9h0M763.7 704.3h0M764.7 718.4h0M763.8 734.9h0M764.9 751.9h0M762.4 767.6h0M761.8 787.1h0M678.4 72.7h0M667.0 99.5h0M661.7 124.8h0M675.6 146.2h0M678.3 171.5h0M663.3 197.5h0M658.5 225.0h0M647.3 244.3h0M647.2 263.2h0M650.6 288.0h0M663.1 315.7h0M675.8 338.8h0M704.8 363.9h0M723.5 388.4h0M755.8 410.8h0M772.5 431.4h0M778.4 450.5h0M770.5 469.1h0M783.8 482.5h0M809.7 495.4h0M804.1 511.6h0M816.7 528.0h0M824.0 544.3h0M815.8 557.9h0M822.8 571.5h0M820.1 586.2h0M818.0 601.7h0M821.3 619.6h0M813.7 636.7h0M810.6 650.4h0M773.4 664.2h0M776.4 678.6h0M767.5 696.3h0M757.9 714.7h0M760.3 732.2h0M759.7 755.3h0M649.1 65.4h0M644.9 80.5h0M647.2 101.0h0M646.5 121.9h0M637.2 139.1h0M646.3 159.7h0M641.7 174.9h0M638.4 195.8h0M652.4 215.0h0M643.2 235.4h0M656.2 250.9h0M671.2 270.3h0M654.2 290.7h0M659.9 306.1h0M662.0 323.9h0M677.6 339.9h0M686.1 356.5h0M686.5 369.9h0M716.0 387.7h0M753.7 405.5h0M761.7 419.5h0M769.0 431.7h0M780.7 447.5h0M762.4 461.9h0M772.4 472.7h0M779.4 483.4h0M883.0 494.4h0M903.9 506.6h0M876.5 516.4h0M899.5 527.7h0M868.7 537.7h0M877.7 548.5h0M870.5 561.0h0M873.7 574.7h0M873.2 586.3h0M810.0 599.8h0M804.5 609.5h0M804.4 621.7h0M780.9 632.8h0M769.1 647.1h0M765.2 661.0h0M762.8 675.3h0M751.5 688.3h0M752.4 699.3h0M756.5 709.9h0M757.7 720.0h0M754.4 734.4h0M759.0 751.9h0M757.5 765.1h0M756.2 780.2h0M757.4 798.0h0M758.1 814.0h0M661.3 63.5h0M678.1 87.3h0M675.8 109.2h0M680.5 131.0h0M687.4 149.3h0M687.8 172.5h0M688.0 193.3h0M675.6 216.7h0M676.9 239.0h0M684.9 264.2h0M705.5 288.8h0M692.7 307.1h0M694.9 333.2h0M717.6 358.1h0M745.2 381.6h0M777.8 401.6h0M795.8 418.0h0M800.2 432.1h0M818.9 446.2h0M821.8 464.4h0M834.4 477.8h0M838.3 493.5h0M830.9 506.5h0M829.2 523.0h0M854.1 540.0h0M836.4 553.2h0M846.3 568.6h0M846.7 582.3h0M855.2 596.9h0M847.1 614.6h0M837.6 628.1h0M804.4 644.4h0M800.5 662.5h0M790.4 676.1h0M773.8 693.9h0M766.4 708.5h0M765.9 726.3h0M762.1 742.4h0M631.0 67.5h0M634.7 88.4h0M639.0 104.7h0M640.7 124.0h0M640.0 139.9h0M631.9 156.0h0M633.7 170.7h0M643.4 189.4h0M634.1 205.5h0M635.5 223.7h0M638.8 240.3h0M636.7 261.3h0M638.8 282.5h0M646.5 302.5h0M651.4 320.1h0M648.1 341.3h0M683.9 360.3h0M696.5 377.1h0M686.5 394.3h0M697.2 411.1h0M726.2 426.4h0M745.4 440.0h0M749.0 450.7h0M719.9 465.4h0M749.2 476.5h0M741.3 488.0h0M761.4 499.9h0M766.1 512.2h0M791.9 523.2h0M799.4 534.7h0M781.3 548.0h0M786.4 559.6h0M796.3 569.5h0M789.4 580.7h0M800.1 594.1h0M801.5 608.4h0M770.5 622.3h0M746.4 632.1h0M741.7 644.1h0M741.7 657.7h0M738.9 671.6h0M739.1 682.2h0M745.9 692.6h0M744.0 707.0h0M747.1 718.6h0M746.5 730.4h0M751.1 742.9h0M752.2 761.1h0M751.4 777.8h0M752.2 792.1h0M754.2 808.6h0M756.1 822.4h0M682.2 78.3h0M673.5 107.3h0M678.6 138.1h0M671.0 161.2h0M668.0 184.2h0M685.9 210.1h0M673.9 237.4h0M674.7 267.6h0M680.1 296.6h0M705.6 319.0h0M707.3 340.3h0M727.0 361.5h0M756.5 388.8h0M792.8 409.8h0M803.7 427.0h0M824.9 445.0h0M837.2 464.0h0M845.9 481.9h0M847.4 500.9h0M853.7 515.6h0M852.9 534.9h0M856.5 553.3h0M846.0 573.1h0M854.4 587.9h0M841.6 608.9h0M840.1 629.0h0M824.4 649.7h0M803.6 668.7h0M795.1 685.7h0M772.5 703.7h0M771.2 719.0h0M765.9 740.8h0M762.2 765.9h0M760.0 793.3h0M656.9 64.1h0M654.8 94.4h0M645.3 121.5h0M649.1 145.3h0M649.4 166.4h0M642.6 190.4h0M638.6 213.2h0M637.2 241.7h0M640.1 266.5h0M649.0 294.0h0M663.9 321.8h0M668.7 342.8h0M691.7 364.4h0M719.4 388.1h0M733.6 408.3h0M748.5 428.5h0M757.9 449.7h0M778.6 469.1h0M775.0 489.2h0M802.4 509.7h0M812.6 524.2h0M818.3 541.7h0M815.7 561.5h0M814.2 578.8h0M811.8 594.2h0M810.4 611.5h0M827.7 627.9h0M786.1 646.8h0M778.5 662.1h0M779.2 681.5h0M765.0 700.8h0M763.6 714.9h0M761.3 735.4h0M761.2 756.6h0M636.0 63.3h0M642.2 87.8h0M652.2 112.4h0M648.8 133.4h0M647.0 157.2h0M641.9 184.4h0M639.5 209.0h0M638.8 231.2h0M637.1 258.5h0M636.2 283.7h0M654.1 307.2h0M664.3 335.4h0M672.9 355.5h0M710.5 377.4h0M730.9 400.3h0M756.8 421.6h0M786.0 438.6h0M772.2 453.5h0M779.6 472.5h0M781.8 486.2h0M794.9 504.2h0M787.2 521.0h0M787.3 540.3h0M800.0 554.8h0M792.4 572.0h0M802.6 589.2h0M794.8 609.0h0M794.8 622.7h0M768.2 638.2h0M755.5 657.5h0M746.8 672.8h0M742.8 689.5h0M745.0 706.4h0M745.4 722.8h0M749.7 743.4h0M752.4 761.3h0M755.1 786.4h0M755.3 810.2h0M658.8 78.0h0M656.8 98.6h0M657.6 118.4h0M654.0 143.8h0M649.5 167.6h0M647.1 189.8h0M643.2 213.8h0M646.8 233.5h0M651.5 258.1h0M654.6 275.8h0M654.9 294.7h0M662.5 318.9h0M679.0 343.1h0M698.7 365.8h0M712.7 383.5h0M735.2 405.4h0M755.2 422.4h0M801.2 438.1h0M807.4 455.9h0M802.7 474.1h0M898.7 487.6h0M885.5 501.6h0M882.6 514.4h0M900.0 531.3h0M877.1 545.6h0M876.6 559.0h0M886.8 571.4h0M873.4 587.1h0M822.0 604.5h0M817.2 617.3h0M801.8 630.3h0M793.4 645.1h0M777.5 657.8h0M756.4 673.0h0M768.7 688.6h0M759.6 705.2h0M762.0 720.4h0M760.0 738.3h0M760.1 757.6h0M760.4 776.3h0M758.9 793.5h0M758.7 811.2h0M632.2 68.2h0M644.0 90.1h0M640.5 113.8h0M640.8 136.4h0M648.2 153.5h0M646.9 174.3h0M643.0 194.5h0M650.7 214.3h0M640.2 232.1h0M646.9 250.3h0M652.8 269.6h0M649.3 289.5h0M644.8 307.5h0M664.8 326.2h0M672.8 344.0h0M686.1 363.3h0M696.7 380.4h0M704.5 398.9h0M737.0 418.9h0M751.3 436.5h0M760.8 449.6h0M758.2 462.0h0M771.3 478.1h0M784.7 492.4h0M792.3 507.4h0M792.5 520.8h0M801.5 534.3h0M792.2 547.3h0M795.5 560.8h0M798.5 575.0h0M802.1 589.3h0M802.8 605.5h0M776.9 620.3h0M782.2 633.2h0M765.6 647.2h0M757.1 663.6h0M754.8 676.5h0M762.5 692.6h0M754.8 706.3h0M751.0 718.2h0M753.7 735.5h0M757.4 755.2h0M755.7 771.7h0M755.5 787.0h0M756.6 805.1h0M757.0 823.0h0M630.6 66.8h0M630.7 87.5h0M630.9 106.6h0M630.8 121.9h0M630.9 137.6h0M637.0 155.9h0M638.9 172.6h0M640.4 189.3h0M638.6 207.6h0M639.7 227.6h0M639.8 247.9h0M640.2 268.8h0M637.4 289.0h0M633.7 305.6h0M639.6 321.6h0M638.4 337.5h0M659.0 356.0h0M682.2 373.7h0M691.0 392.6h0M697.1 410.9h0M737.5 424.9h0M768.5 438.9h0M778.3 450.7h0M772.6 465.1h0M775.1 477.4h0M778.3 491.6h0M798.4 505.8h0M793.5 518.4h0M796.1 530.4h0M814.0 541.9h0M809.9 552.9h0M787.0 568.0h0M783.9 581.7h0M768.7 592.4h0M774.8 606.5h0M753.0 621.2h0M765.8 635.0h0M763.0 646.6h0M746.4 659.5h0M743.8 673.9h0M747.7 689.0h0M743.0 702.5h0M742.4 713.8h0M741.3 725.4h0M751.4 739.3h0M752.5 755.5h0M749.5 772.4h0M751.9 786.5h0M753.6 800.9h0M754.9 819.8h0M633.3 65.9h0M631.5 84.9h0M631.8 110.9h0M631.5 136.5h0M631.9 161.4h0M635.8 182.5h0M633.4 206.6h0M632.5 231.7h0M631.5 256.6h0M631.5 275.0h0M632.1 297.2h0M632.9 323.5h0M632.4 344.2h0M636.2 367.7h0M656.9 384.0h0M676.2 401.1h0M720.5 422.7h0M726.5 442.4h0M753.3 461.6h0M764.1 480.3h0M773.3 495.3h0M779.8 508.3h0M794.8 523.9h0M794.8 537.9h0M809.7 550.5h0M796.0 565.6h0M793.2 583.5h0M795.8 600.9h0M774.6 615.2h0M761.5 632.7h0M755.3 649.6h0M753.2 666.3h0M750.6 683.1h0M739.0 696.8h0M739.3 709.4h0M741.2 727.6h0M749.5 744.0h0M749.5 760.6h0M749.8 777.1h0M751.7 798.8h0M753.5 821.4h0M630.6 78.2h0M630.7 92.6h0M630.8 110.1h0M630.9 124.7h0M630.9 140.5h0M631.0 159.1h0M631.2 177.0h0M631.2 192.8h0M631.3 209.5h0M631.4 227.7h0M631.5 244.1h0M631.5 262.4h0M631.5 279.7h0M631.5 294.4h0M634.1 313.4h0M635.2 333.6h0M636.6 352.7h0M645.4 371.3h0M642.9 388.3h0M676.7 402.6h0M671.3 415.6h0M710.0 431.0h0M739.6 444.1h0M735.1 457.8h0M730.0 469.9h0M737.7 484.1h0M748.2 496.1h0M763.9 510.4h0M779.1 524.5h0M784.5 538.0h0M797.6 548.8h0M794.9 562.7h0M787.9 572.5h0M775.3 586.1h0M774.6 597.8h0M773.0 607.6h0M778.9 617.6h0M772.1 630.1h0M744.3 642.9h0M742.4 657.1h0M738.9 668.0h0M742.1 678.5h0M742.2 690.9h0M739.4 703.8h0M739.6 715.4h0M746.1 728.4h0M753.5 740.6h0M752.5 755.0h0M752.3 772.2h0M753.3 789.2h0M671.9 78.3h0M675.9 99.4h0M680.9 124.1h0M678.5 149.9h0M668.8 174.8h0M671.9 201.9h0M677.5 220.9h0M662.6 245.6h0M670.4 265.4h0M669.5 292.8h0M683.0 318.1h0M696.2 346.3h0M716.8 371.7h0M732.8 394.9h0M773.3 417.7h0M804.1 437.4h0M813.4 454.0h0M819.5 468.8h0M887.8 486.4h0M901.1 504.3h0M872.9 519.1h0M898.9 538.1h0M877.0 553.1h0M888.8 568.0h0M877.6 583.1h0M836.0 597.2h0M818.0 614.4h0M818.6 628.3h0M783.7 647.2h0M792.5 665.8h0M793.1 680.5h0M781.2 699.3h0M771.4 717.9h0M766.2 735.7h0M765.2 754.5h0M763.5 773.5h0M762.6 793.6h0M761.1 813.6h0M667.3 63.2h0M665.8 89.6h0M674.7 116.7h0M669.0 142.3h0M672.6 162.3h0M665.5 183.9h0M659.1 206.8h0M668.0 226.1h0M658.6 251.3h0M671.6 271.9h0M680.9 300.1h0M686.8 326.0h0M692.4 347.1h0M712.7 370.7h0M759.7 394.9h0M787.0 417.7h0M805.2 435.3h0M818.1 455.9h0M814.7 471.4h0M818.1 487.9h0M827.7 501.0h0M825.8 514.2h0M841.7 530.7h0M838.9 545.3h0M837.0 562.2h0M830.3 577.3h0M835.4 594.9h0M820.1 612.7h0M814.8 631.5h0M777.7 649.4h0M769.1 664.5h0M767.6 682.7h0M763.8 701.1h0M761.7 715.6h0M760.4 733.2h0M760.7 753.4h0M756.8 775.5h0M638.5 72.8h0M640.1 90.2h0M637.8 106.3h0M638.0 127.3h0M639.6 146.7h0M639.8 165.7h0M642.2 181.4h0M634.8 195.8h0M631.4 213.2h0M635.9 231.1h0M632.5 251.7h0M639.3 266.7h0M643.7 283.3h0M635.0 302.4h0M647.2 322.6h0M650.2 337.8h0M665.8 357.2h0M677.4 374.6h0M686.5 391.9h0M664.0 408.0h0M730.8 422.8h0M749.7 438.5h0M771.4 451.7h0M749.4 466.6h0M770.2 481.1h0M791.5 494.1h0M771.7 507.4h0M794.3 521.3h0M801.0 532.8h0M812.2 546.0h0M811.8 555.7h0M792.9 569.6h0M784.6 580.6h0M792.9 590.5h0M804.5 602.4h0M793.5 613.7h0M787.4 624.4h0M776.2 637.7h0M762.2 650.8h0M768.8 664.9h0M750.2 676.3h0M756.9 686.6h0M750.2 697.5h0M757.0 707.9h0M756.0 718.4h0M752.5 731.6h0M751.9 745.4h0M753.2 763.6h0M755.4 779.8h0M663.8 70.4h0M668.5 96.0h0M655.9 118.2h0M670.8 146.2h0M665.5 173.2h0M682.2 195.4h0M669.9 215.7h0M668.9 237.3h0M662.3 262.3h0M675.3 286.6h0M680.6 311.0h0M663.0 332.2h0M684.2 357.9h0M711.5 376.8h0M728.2 398.2h0M762.0 418.0h0M778.8 437.2h0M774.7 452.3h0M778.6 471.2h0M783.7 487.0h0M792.6 502.5h0M801.2 517.3h0M807.3 532.0h0M801.2 550.5h0M810.2 566.5h0M797.9 583.1h0M795.0 598.1h0M806.7 614.2h0M788.1 631.0h0M787.9 645.4h0M771.5 660.1h0M779.4 677.6h0M770.5 694.1h0M762.1 707.3h0M752.4 721.6h0M757.2 736.4h0M758.3 756.3h0M643.6 75.5h0M641.6 93.2h0M640.0 112.1h0M638.8 130.7h0M647.7 147.8h0M641.1 168.2h0M651.7 190.5h0M641.7 209.6h0M651.8 226.2h0M652.6 245.7h0M656.5 266.6h0M669.6 287.8h0M665.6 306.0h0M669.1 330.2h0M692.3 353.1h0M683.3 369.4h0M714.1 387.3h0M729.2 405.3h0M747.6 423.3h0M766.9 439.8h0M781.4 456.2h0M777.2 467.8h0M764.8 479.5h0M788.9 495.1h0M800.9 510.7h0M799.9 524.5h0M815.7 536.8h0M809.0 550.7h0M816.0 566.9h0M805.4 579.8h0M811.8 595.4h0M809.6 610.0h0M796.5 622.4h0M781.7 635.8h0M782.5 647.6h0M774.4 662.7h0M758.7 677.6h0M759.4 690.7h0M756.2 706.8h0M759.9 717.7h0M759.7 732.8h0M757.6 749.8h0M756.3 768.5h0M756.7 783.6h0M755.7 799.8h0M636.6 73.5h0M643.2 94.7h0M642.9 118.5h0M648.1 143.3h0M649.6 169.0h0M652.8 190.1h0M655.6 215.6h0M641.5 237.2h0M639.3 259.9h0M640.7 279.1h0M644.0 304.8h0M646.7 326.2h0M668.2 347.8h0M710.5 368.8h0M736.2 389.3h0M760.5 409.1h0M769.6 426.4h0M787.9 443.6h0M786.9 460.7h0M784.9 478.2h0M784.3 492.2h0M815.2 509.2h0M817.3 525.1h0M815.9 537.1h0M821.9 548.9h0M818.3 565.7h0M810.2 580.4h0M803.4 592.7h0M801.6 609.3h0M797.1 623.7h0M792.3 640.4h0M766.8 654.1h0M763.4 667.4h0M761.0 683.1h0M749.4 697.1h0M749.8 709.4h0M747.3 723.4h0M752.4 737.1h0M643.2 63.6h0M643.5 90.4h0M644.5 113.0h0M641.6 143.3h0M641.2 169.8h0M640.0 202.3h0M639.8 232.7h0M635.7 260.7h0M633.2 287.1h0M637.1 316.7h0M654.9 341.3h0M680.8 363.5h0M696.4 387.3h0M740.3 411.7h0M737.6 433.0h0M764.5 455.7h0M762.8 473.4h0M774.4 491.6h0M805.1 513.7h0M816.1 530.1h0M812.0 549.5h0M805.4 571.2h0M801.5 591.2h0M787.2 606.2h0M776.4 625.4h0M750.7 641.9h0M747.6 659.0h0M739.8 675.8h0M751.8 695.7h0M746.7 713.5h0M754.4 734.5h0M757.0 756.0h0M755.9 776.6h0M756.2 803.1h0M631.8 76.9h0M633.3 102.7h0M634.2 128.8h0M632.3 151.2h0M636.4 177.0h0M633.4 199.4h0M636.7 218.3h0M642.7 243.4h0M637.9 267.2h0M650.3 292.3h0M641.5 311.7h0M641.3 330.0h0M662.2 350.7h0M674.1 367.7h0M678.9 387.0h0M717.2 403.2h0M739.2 423.6h0M754.7 440.8h0M737.3 455.5h0M750.8 473.0h0M753.5 486.8h0M761.6 502.5h0M786.0 519.2h0M789.5 534.3h0M781.6 546.7h0M796.8 564.6h0M791.2 577.5h0M788.8 590.7h0M798.8 603.9h0M782.2 616.2h0M777.7 632.1h0M753.1 645.0h0M746.7 662.4h0M749.7 679.5h0M749.6 693.9h0M744.1 710.1h0M741.8 723.0h0M749.5 743.3h0M750.8 759.8h0M752.3 782.9h0M754.7 806.0h0M666.3 70.4h0M680.2 91.8h0M667.3 114.3h0M660.2 137.4h0M675.8 162.1h0M663.1 186.0h0M678.6 209.7h0M660.8 231.1h0M673.8 254.1h0M676.5 280.1h0M670.7 306.7h0M688.7 330.1h0M694.9 355.1h0M717.6 375.7h0M741.1 393.9h0M771.3 413.6h0M797.7 429.3h0M801.7 447.4h0M795.1 467.2h0M869.0 487.3h0M898.8 504.4h0M902.3 523.0h0M891.2 538.2h0M868.9 552.4h0M884.4 567.7h0M879.4 581.8h0M839.3 594.9h0M835.3 611.0h0M845.7 625.5h0M828.4 641.2h0M801.2 657.2h0M791.6 670.5h0M769.7 687.9h0M768.7 704.2h0M764.1 722.1h0M762.8 741.2h0M761.4 765.2h0M760.4 785.2h0M760.9 808.6h0M647.1 63.3h0M636.9 82.5h0M640.9 106.0h0M641.0 128.7h0M640.2 151.3h0M635.7 174.1h0M633.8 191.1h0M638.2 208.7h0M640.7 229.5h0M645.5 247.7h0M644.0 269.6h0M634.9 292.3h0M637.1 316.0h0M633.3 337.0h0M655.6 356.1h0M687.2 371.7h0M701.7 388.2h0M717.9 402.9h0M742.7 419.2h0M765.4 437.3h0M784.4 451.8h0M787.4 466.8h0M781.9 479.7h0M802.1 494.0h0M799.1 505.2h0M809.1 517.5h0M820.5 530.7h0M817.8 545.3h0M817.0 556.8h0M812.5 573.0h0M810.8 584.6h0M810.9 597.4h0M804.8 609.5h0M790.7 621.4h0M790.3 637.6h0M797.6 651.1h0M768.8 664.4h0M766.8 679.2h0M766.0 693.7h0M760.6 708.1h0M760.4 722.5h0M762.0 740.0h0M639.6 71.1h0M637.8 102.8h0M646.9 131.5h0M654.3 155.2h0M646.5 183.1h0M654.9 209.7h0M657.8 240.7h0M668.3 265.4h0M657.9 293.4h0M659.8 315.8h0M682.1 346.7h0M684.1 367.9h0M716.8 394.2h0M732.6 420.8h0M743.7 440.9h0M764.1 461.6h0M778.0 482.9h0M792.1 502.1h0M811.7 523.4h0M819.1 540.2h0M809.3 560.5h0M807.2 577.7h0M817.9 594.3h0M816.9 613.2h0M793.7 634.9h0M794.6 651.7h0M786.5 671.9h0M780.5 690.0h0M765.3 710.6h0M758.9 732.8h0M755.4 756.3h0M755.1 775.8h0M754.9 799.1h0M755.9 824.1h0M630.6 73.1h0M631.3 102.3h0M630.9 128.2h0M631.0 153.0h0M631.2 177.5h0M631.3 202.8h0M631.4 222.9h0M632.3 248.8h0M636.2 268.6h0M634.0 294.7h0M632.5 315.5h0M632.3 335.6h0M633.6 361.8h0M639.7 383.1h0M653.1 405.5h0M673.7 421.3h0M710.0 439.5h0M730.6 458.6h0M735.2 477.8h0M763.9 497.2h0M769.4 513.2h0M790.6 531.2h0M787.2 545.9h0M777.9 564.0h0M772.9 579.5h0M769.2 595.1h0M763.3 610.4h0M750.4 625.6h0M756.5 643.7h0M740.7 658.5h0M739.0 677.8h0M738.8 692.9h0M743.5 709.5h0M746.1 729.2h0M751.4 746.3h0M753.0 772.3h0M755.7 793.5h0M756.1 813.7h0M630.5 68.5h0M636.5 86.4h0M638.3 103.9h0M640.7 121.0h0M650.3 145.2h0M651.2 168.6h0M647.6 185.9h0M649.8 209.3h0M645.9 226.5h0M650.4 250.6h0M641.3 273.9h0M651.9 298.1h0M645.6 318.1h0M655.4 337.6h0M650.6 357.6h0M650.5 374.7h0M682.1 392.9h0M683.8 410.6h0M711.9 425.0h0M725.5 440.6h0M718.9 456.1h0M734.5 469.7h0M750.3 485.6h0M755.1 500.2h0M772.9 513.4h0M779.2 528.6h0M782.6 541.9h0M784.5 553.5h0M775.2 570.4h0M777.4 584.5h0M771.9 600.0h0M768.0 614.1h0M755.9 628.2h0M742.6 640.5h0M739.1 656.3h0M738.3 672.9h0M742.3 684.3h0M742.1 697.7h0M742.0 713.2h0M744.5 730.3h0M752.0 745.2h0M750.6 763.3h0M752.4 785.1h0M753.5 802.5h0M754.3 818.1h0M661.6 74.2h0M650.1 98.8h0M655.3 122.0h0M667.1 139.6h0M659.4 159.7h0M674.1 178.5h0M672.5 197.5h0M669.7 215.9h0M671.1 233.2h0M655.9 253.0h0M649.4 271.4h0M669.3 288.9h0M670.0 312.9h0M681.5 333.1h0M699.7 350.3h0M699.9 369.3h0M713.3 384.4h0M751.9 401.5h0M781.2 415.4h0M792.4 430.4h0M806.7 445.5h0M832.4 458.6h0M816.9 472.8h0M902.3 489.2h0M886.3 500.7h0M870.9 513.2h0M873.5 529.9h0M877.7 546.7h0M889.9 559.4h0M883.3 574.1h0M873.0 589.0h0M840.9 601.7h0M814.2 614.2h0M803.8 626.3h0M801.2 638.0h0M798.8 651.8h0M787.2 666.3h0M778.6 678.0h0M771.2 690.7h0M765.7 707.4h0M765.5 718.8h0M763.1 731.6h0M763.5 751.5h0M759.4 768.6h0M760.5 789.8h0M760.1 804.6h0M759.1 823.6h0M632.5 76.8h0M639.8 106.5h0M637.2 127.4h0M634.9 149.8h0M633.5 175.2h0M633.4 200.9h0M636.2 225.2h0M634.1 249.0h0M637.8 276.2h0M641.4 300.7h0M650.6 324.4h0M665.0 347.9h0M659.3 368.9h0M705.9 391.7h0M734.4 413.9h0M746.4 433.8h0M760.7 451.1h0M733.5 466.1h0M740.4 480.4h0M763.2 497.9h0M772.2 515.0h0M808.6 534.6h0M799.9 548.4h0M803.2 562.4h0M788.6 578.3h0M788.5 594.9h0M786.0 610.2h0M779.4 626.2h0M774.6 644.0h0M751.0 663.7h0M754.4 679.6h0M747.3 696.1h0M748.9 715.3h0M753.5 734.3h0M753.1 757.4h0M754.1 776.6h0M755.7 796.2h0M754.6 817.1h0M684.2 73.5h0M687.0 103.0h0M686.9 129.3h0M684.0 160.9h0M686.4 187.3h0M680.8 213.9h0M664.4 242.7h0M676.4 269.6h0M683.4 299.3h0M714.2 329.7h0M723.5 355.8h0M743.0 379.1h0M791.4 406.2h0M802.4 426.1h0M817.4 442.7h0M834.0 464.0h0M839.9 484.3h0M843.5 504.4h0M854.3 519.0h0M846.2 538.4h0M847.9 554.3h0M856.4 574.0h0M841.0 589.7h0M837.5 609.3h0M826.9 626.1h0M806.8 646.7h0M792.6 667.0h0M771.7 682.7h0M757.1 703.7h0M762.7 721.6h0M760.4 744.6h0M673.7 63.2h0M686.8 88.7h0M670.2 115.0h0M666.0 140.3h0M675.7 160.4h0M670.3 188.7h0M679.1 212.1h0M682.7 232.1h0M685.7 258.2h0M688.5 277.6h0M690.6 302.5h0M691.4 327.5h0M712.2 354.8h0M738.8 376.6h0M766.2 395.1h0M780.7 414.4h0M798.9 436.2h0M816.7 456.9h0M816.2 476.8h0M819.5 496.1h0M818.8 514.7h0M850.9 533.3h0M856.5 550.8h0M853.3 566.6h0M850.3 584.6h0M838.4 603.3h0M836.4 619.5h0M809.9 637.6h0M794.7 653.9h0M792.8 668.1h0M791.6 684.5h0M777.6 698.4h0M763.2 717.0h0M763.0 731.5h0M763.9 755.2h0M632.9 72.8h0M630.7 101.3h0M630.9 134.2h0M632.3 158.3h0M633.6 183.9h0M633.2 214.6h0M631.6 245.7h0M631.5 273.3h0M631.7 305.1h0M634.6 338.0h0M642.8 363.4h0M642.3 387.4h0M661.9 412.5h0M685.8 434.7h0M723.6 458.0h0M732.3 478.4h0M762.7 494.5h0M788.9 515.2h0M792.2 533.4h0M788.8 549.1h0M785.4 568.2h0M767.7 586.6h0M767.2 606.3h0M752.5 626.1h0M745.0 647.3h0M738.5 666.8h0M750.4 685.8h0M744.6 705.3h0M740.0 722.1h0M752.4 741.9h0M670.5 71.9h0M665.9 90.5h0M671.9 115.7h0M682.2 133.4h0M669.5 154.5h0M682.1 173.1h0M668.2 198.2h0M662.5 224.5h0M654.9 250.9h0M646.2 270.4h0M656.1 295.1h0M659.0 314.0h0M686.9 333.5h0M681.0 353.1h0M720.4 372.8h0M759.8 396.0h0M781.6 411.9h0M793.0 428.9h0M804.0 442.8h0M819.6 458.7h0M820.3 476.0h0M823.3 493.2h0M815.4 510.1h0M827.3 527.7h0M822.4 542.9h0M821.5 558.4h0M822.1 571.0h0M812.5 583.0h0M813.9 595.0h0M821.3 610.8h0M809.9 627.4h0M788.9 644.4h0M797.2 659.7h0M779.0 672.1h0M775.1 690.0h0M763.2 707.4h0M763.7 721.3h0M763.3 738.1h0M762.1 757.0h0M762.1 779.7h0M761.2 802.3h0M759.9 820.5h0M667.9 64.4h0M673.6 84.1h0M681.5 98.5h0M668.3 118.4h0M682.7 134.9h0M687.5 154.8h0M680.0 173.5h0M688.0 194.0h0M688.2 211.9h0M680.4 226.8h0M685.7 245.3h0M681.3 265.3h0M703.6 283.1h0M694.4 299.8h0M702.6 315.1h0M714.3 330.6h0M713.2 351.7h0M728.4 367.6h0M737.6 381.9h0M757.8 399.2h0M776.3 413.7h0M792.0 429.1h0M813.2 441.6h0M794.9 455.5h0M808.1 469.5h0M810.3 480.5h0M811.3 490.7h0M808.4 502.0h0M826.2 515.3h0M839.2 527.5h0M842.0 538.8h0M849.4 551.1h0M856.5 565.6h0M856.5 576.4h0M836.5 587.8h0M858.0 598.9h0M858.5 608.7h0M845.7 622.8h0M843.8 634.6h0M831.3 645.5h0M810.7 657.9h0M793.6 668.4h0M786.5 682.2h0M789.9 692.1h0M769.2 704.4h0M771.5 717.2h0M768.9 730.2h0M766.2 744.1h0M764.9 757.7h0M763.5 774.0h0M762.9 787.6h0M762.3 802.0h0M760.6 818.3h0M920.5 535.4h0M925.4 544.4h0M902 600.5h0M880 637h0M620.5 348h0M622 199h0" stroke="#00ffff" stroke-width="7.1" stroke-linecap="round" fill="none"/>
<polyline points="695.4,19.3 695.4,63.0 695.4,106.7 695.6,150.5 695.9,194.2 696.2,237.9 696.6,281.6 697.9,347.2 706.5,456.5 739.6,565.8 777.3,675.1 793.4,784.4" fill="none" stroke="#ff0000" stroke-width="8.4" stroke-linejoin="round"/>
<polyline points="647.1,52.1 649.1,161.4 660.9,270.7 701.1,380.0 801.3,489.3 814.9,598.6 762.9,707.9 758.4,817.2" fill="none" stroke="#0000ff" stroke-width="2.7" stroke-linejoin="round"/>
<path d="M647.1 52.1h0M649.1 161.4h0M660.9 270.7h0M701.1 380.0h0M801.3 489.3h0M814.9 598.6h0M762.9 707.9h0M758.4 817.2h0" stroke="#0000ff" stroke-width="12" stroke-linecap="round" fill="none"/>
<polyline points="695.4,19.3 695.4,63.0 695.4,106.7 695.6,150.5 695.9,194.2 696.2,237.9 696.6,281.6 697.9,347.2 706.5,456.5 739.6,565.8 777.3,675.1 793.4,784.4" fill="none" stroke="#ff0000" stroke-width="2.7" stroke-linejoin="round"/>
<path d="M695.4 19.3h0M695.4 63.0h0M695.4 106.7h0M695.6 150.5h0M695.9 194.2h0M696.2 237.9h0M696.6 281.6h0M697.9 347.2h0M706.5 456.5h0M739.6 565.8h0M777.3 675.1h0M793.4 784.4h0" stroke="#ff0000" stroke-width="12" stroke-linecap="round" fill="none"/>
<polyline points="672.3,19.3 672.3,63.0 672.3,106.7 672.3,150.5 672.2,194.2 672.2,237.9 672.2,281.6 673.4,347.2 708.1,456.5 726.6,565.8 712.2,675.1 707.4,784.4" fill="none" stroke="#008000" stroke-width="2.7" stroke-linejoin="round"/>
<path d="M672.3 19.3h0M672.3 63.0h0M672.3 106.7h0M672.3 150.5h0M672.2 194.2h0M672.2 237.9h0M672.2 281.6h0M673.4 347.2h0M708.1 456.5h0M726.6 565.8h0M712.2 675.1h0M707.4 784.4h0" stroke="#008000" stroke-width="12" stroke-linecap="round" fill="none"/>
<polyline points="658.6,30.1 658.3,53.0 658.1,77.1 658.0,102.8 657.8,130.3 657.6,160.1 657.5,192.6 657.4,228.6 657.4,268.6 657.7,313.7 657.4,364.9 671.2,423.6 707.5,491.5 745.4,570.4 785.8,663.0 801.2,772.0" fill="none" stroke="#ff00ff" stroke-width="2.7" stroke-linejoin="round"/>
<path d="M658.6 30.1h0M658.3 53.0h0M658.1 77.1h0M658.0 102.8h0M657.8 130.3h0M657.6 160.1h0M657.5 192.6h0M657.4 228.6h0M657.4 268.6h0M657.7 313.7h0M657.4 364.9h0M671.2 423.6h0M707.5 491.5h0M745.4 570.4h0M785.8 663.0h0M801.2 772.0h0" stroke="#ff00ff" stroke-width="12" stroke-linecap="round" fill="none"/>
</g>
<rect x="572.5" y="19.5" width="403.00" height="795.00" fill="none" stroke="#000" stroke-width="1.2"/>
<path d="M578.5 814.4v6M679.5 814.4v6M780.5 814.4v6M881.5 814.4v6M572.6 19.5h-6M572.6 128.5h-6M572.6 237.5h-6M572.6 347.5h-6M572.6 456.5h-6M572.6 565.5h-6M572.6 675.5h-6M572.6 784.5h-6" fill="none" stroke="#000" stroke-width="1.15"/>
<text x="578.45" y="841.90" font-size="17.66" text-anchor="middle" textLength="33.78" lengthAdjust="spacingAndGlyphs" fill="#000">31.5</text>
<text x="679.50" y="841.90" font-size="17.66" text-anchor="middle" textLength="33.78" lengthAdjust="spacingAndGlyphs" fill="#000">32.0</text>
<text x="780.55" y="841.90" font-size="17.66" text-anchor="middle" textLength="33.78" lengthAdjust="spacingAndGlyphs" fill="#000">32.5</text>
<text x="881.60" y="841.90" font-size="17.66" text-anchor="middle" textLength="33.78" lengthAdjust="spacingAndGlyphs" fill="#000">33.0</text>
<path d="M1139.5 814.4V19.3M1242.5 814.4V19.3M1344.5 814.4V19.3M1447.5 814.4V19.3M1067.6 19.5H1471.2M1067.6 128.5H1471.2M1067.6 237.5H1471.2M1067.6 347.5H1471.2M1067.6 456.5H1471.2M1067.6 565.5H1471.2M1067.6 675.5H1471.2M1067.6 784.5H1471.2" fill="none" stroke="#b0b0b0" stroke-width="0.9" stroke-dasharray="3.2 1.38"/>
<g clip-path="url(#c2)">
<path d="M1128.9 70.1h0M1123.9 89.8h0M1123.1 111.5h0M1122.0 130.1h0M1123.7 152.9h0M1127.2 174.5h0M1123.7 200.0h0M1125.1 222.2h0M1129.3 245.2h0M1125.7 269.1h0M1128.2 288.1h0M1124.6 310.9h0M1128.7 332.6h0M1126.0 352.3h0M1127.1 372.9h0M1139.3 394.2h0M1136.1 414.0h0M1151.7 431.2h0M1158.1 449.5h0M1167.2 466.5h0M1184.3 482.5h0M1203.1 497.3h0M1228.0 510.7h0M1239.7 528.4h0M1249.4 544.9h0M1257.0 560.0h0M1273.9 574.9h0M1278.2 588.6h0M1280.7 601.8h0M1287.9 616.7h0M1289.6 631.6h0M1288.8 645.7h0M1301.8 660.9h0M1338.9 676.0h0M1363.3 689.7h0M1368.5 706.9h0M1376.8 725.2h0M1391.0 739.6h0M1386.1 760.8h0M1399.1 782.6h0M1401.0 802.6h0M1140.7 75.2h0M1150.4 90.5h0M1144.5 106.5h0M1144.7 125.0h0M1151.2 142.4h0M1150.8 160.7h0M1147.3 175.7h0M1148.9 194.7h0M1151.8 216.7h0M1152.0 237.3h0M1149.0 256.0h0M1153.6 274.4h0M1144.3 295.8h0M1154.4 314.9h0M1150.9 330.5h0M1155.7 346.8h0M1165.2 362.1h0M1176.7 381.6h0M1186.4 397.4h0M1191.0 411.0h0M1196.5 423.3h0M1204.5 437.4h0M1196.3 448.8h0M1199.4 459.7h0M1205.8 474.6h0M1220.1 489.7h0M1228.9 504.1h0M1242.4 516.5h0M1251.5 531.5h0M1256.4 545.6h0M1272.3 559.2h0M1288.5 572.5h0M1297.6 586.9h0M1297.7 598.4h0M1333.3 609.5h0M1313.2 620.7h0M1307.6 635.0h0M1321.5 650.0h0M1339.1 663.7h0M1353.3 674.7h0M1365.2 684.8h0M1387.2 696.4h0M1398.4 708.2h0M1411.2 721.7h0M1410.2 733.6h0M1412.1 751.6h0M1415.3 766.8h0M1410.6 783.4h0M1139.4 72.7h0M1137.1 94.7h0M1136.9 113.7h0M1137.4 138.2h0M1138.4 161.7h0M1137.3 188.5h0M1136.6 210.6h0M1140.6 233.0h0M1141.3 260.3h0M1140.8 280.6h0M1138.2 300.3h0M1145.0 326.8h0M1151.9 354.8h0M1161.8 380.7h0M1170.4 398.1h0M1185.8 420.3h0M1199.2 441.9h0M1198.4 459.9h0M1213.7 474.5h0M1222.3 490.1h0M1241.6 506.2h0M1244.8 522.8h0M1256.1 538.6h0M1266.8 552.4h0M1283.7 571.0h0M1288.8 585.0h0M1294.6 600.2h0M1295.4 613.8h0M1319.7 632.7h0M1324.8 647.6h0M1337.5 661.0h0M1353.3 674.9h0M1386.6 692.4h0M1397.7 709.4h0M1403.2 727.8h0M1401.5 747.7h0M1136.7 65.4h0M1140.9 86.3h0M1141.6 105.6h0M1140.1 126.5h0M1136.1 144.7h0M1136.3 159.8h0M1141.9 181.0h0M1137.4 201.7h0M1139.4 223.0h0M1141.5 242.7h0M1142.4 260.2h0M1143.3 280.6h0M1143.8 295.6h0M1148.3 315.6h0M1147.3 335.2h0M1150.1 352.4h0M1154.5 366.4h0M1162.3 383.1h0M1178.5 398.3h0M1198.0 413.2h0M1205.0 425.5h0M1204.9 436.8h0M1202.3 447.5h0M1201.0 461.2h0M1205.1 472.2h0M1208.7 486.2h0M1218.1 499.9h0M1235.6 510.5h0M1241.8 521.2h0M1251.0 534.0h0M1258.0 544.6h0M1263.3 556.1h0M1274.5 568.8h0M1283.7 579.7h0M1295.1 589.5h0M1308.6 602.5h0M1307.6 612.7h0M1302.7 622.7h0M1317.8 634.0h0M1309.5 645.8h0M1329.2 659.7h0M1341.0 670.5h0M1360.7 683.7h0M1368.4 695.5h0M1374.9 707.4h0M1383.7 721.0h0M1390.6 736.8h0M1402.3 753.0h0M1402.5 770.4h0M1402.4 785.9h0M1409.1 803.8h0M1410.6 819.8h0M1138.0 63.5h0M1136.8 83.8h0M1136.0 110.3h0M1135.1 133.3h0M1135.2 156.2h0M1132.1 177.3h0M1132.7 202.9h0M1129.1 225.3h0M1133.5 244.5h0M1130.3 271.2h0M1129.7 293.1h0M1133.3 314.3h0M1126.0 336.4h0M1125.4 356.7h0M1131.5 379.2h0M1141.0 396.1h0M1164.6 413.3h0M1175.0 433.5h0M1182.5 452.9h0M1194.1 470.8h0M1198.7 486.9h0M1212.6 503.9h0M1235.8 518.3h0M1244.2 531.0h0M1258.9 547.4h0M1265.3 560.6h0M1274.3 578.0h0M1281.6 592.7h0M1282.1 604.9h0M1284.5 620.4h0M1294.2 636.0h0M1307.0 652.7h0M1326.5 667.7h0M1358.6 683.6h0M1374.9 696.6h0M1374.6 710.0h0M1378.6 722.7h0M1390.5 742.3h0M1135.7 67.5h0M1129.4 85.8h0M1128.6 105.4h0M1133.5 123.5h0M1129.5 138.5h0M1131.4 154.3h0M1127.4 169.6h0M1132.5 187.2h0M1128.9 205.3h0M1129.0 219.8h0M1129.4 238.9h0M1132.5 255.8h0M1131.4 274.0h0M1131.6 291.6h0M1133.1 306.1h0M1133.6 320.6h0M1139.1 339.6h0M1142.2 356.3h0M1156.1 375.5h0M1170.3 393.9h0M1167.9 408.1h0M1183.2 419.9h0M1187.0 431.3h0M1186.4 442.5h0M1194.4 455.5h0M1200.1 468.3h0M1205.1 479.9h0M1214.0 493.8h0M1221.1 506.9h0M1237.8 516.8h0M1244.6 528.4h0M1253.3 541.8h0M1263.9 551.8h0M1269.5 565.1h0M1279.3 575.4h0M1283.3 588.3h0M1299.0 599.8h0M1303.8 611.0h0M1315.6 621.4h0M1314.2 633.6h0M1319.3 647.8h0M1329.6 660.6h0M1340.3 670.7h0M1352.6 683.7h0M1356.0 694.2h0M1378.8 705.6h0M1388.6 719.6h0M1387.4 734.1h0M1394.6 749.4h0M1395.1 765.2h0M1401.3 780.6h0M1400.2 794.3h0M1401.4 807.1h0M1398.8 821.6h0M1141.4 78.3h0M1138.8 107.4h0M1143.0 138.1h0M1143.1 168.8h0M1143.8 194.4h0M1149.2 215.5h0M1148.1 237.9h0M1144.0 260.6h0M1141.0 283.1h0M1146.6 307.9h0M1149.5 336.2h0M1161.3 361.7h0M1176.8 386.3h0M1192.3 404.3h0M1211.0 428.0h0M1213.2 447.6h0M1222.1 465.4h0M1228.4 486.7h0M1247.9 506.4h0M1255.8 526.6h0M1259.5 545.3h0M1277.1 560.2h0M1292.4 580.3h0M1294.7 596.7h0M1305.4 615.4h0M1306.7 630.8h0M1316.0 648.8h0M1334.5 663.4h0M1370.9 680.5h0M1404.1 701.4h0M1402.8 721.0h0M1409.2 737.7h0M1417.1 757.6h0M1417.3 781.4h0M1131.2 64.1h0M1131.9 87.7h0M1132.3 113.8h0M1131.4 137.9h0M1134.5 158.5h0M1133.5 179.0h0M1138.4 201.7h0M1136.3 226.1h0M1140.7 247.3h0M1139.0 271.2h0M1142.5 292.4h0M1138.0 318.3h0M1139.7 338.8h0M1147.4 362.0h0M1152.9 380.4h0M1159.2 398.5h0M1170.6 421.8h0M1186.2 441.5h0M1192.7 463.5h0M1205.8 481.4h0M1217.8 501.2h0M1242.1 521.6h0M1254.4 541.9h0M1265.0 561.1h0M1278.0 579.3h0M1274.9 598.3h0M1292.4 617.9h0M1300.5 634.3h0M1303.0 648.1h0M1321.9 666.3h0M1356.5 680.2h0M1379.8 697.3h0M1388.9 715.2h0M1400.8 734.9h0M1403.0 755.4h0M1149.1 63.3h0M1145.8 89.4h0M1143.7 112.3h0M1143.6 139.3h0M1144.5 165.6h0M1143.6 194.8h0M1144.7 214.5h0M1147.9 242.6h0M1148.0 262.4h0M1150.3 287.5h0M1152.1 316.6h0M1156.4 341.3h0M1164.2 369.1h0M1180.5 387.4h0M1186.1 405.3h0M1202.5 421.4h0M1210.8 440.1h0M1209.9 460.7h0M1216.1 477.5h0M1224.2 492.0h0M1237.1 511.4h0M1249.0 528.4h0M1258.6 542.5h0M1270.9 556.6h0M1295.2 575.2h0M1333.0 594.9h0M1337.0 612.3h0M1339.5 626.0h0M1364.4 643.7h0M1370.1 657.4h0M1379.4 672.1h0M1398.1 688.6h0M1411.9 706.4h0M1416.6 726.1h0M1416.9 745.4h0M1415.2 762.9h0M1415.1 782.0h0M1415.3 801.9h0M1141.9 78.0h0M1150.3 103.8h0M1150.0 129.2h0M1150.6 153.3h0M1148.1 175.8h0M1146.9 194.3h0M1142.5 214.2h0M1148.5 239.7h0M1142.9 259.8h0M1151.7 283.0h0M1154.1 304.3h0M1155.3 324.9h0M1155.8 350.6h0M1168.7 373.6h0M1177.2 393.8h0M1186.9 408.8h0M1204.9 426.9h0M1210.2 442.5h0M1225.0 458.4h0M1230.6 472.3h0M1227.3 488.8h0M1237.8 501.1h0M1260.3 515.6h0M1267.3 532.5h0M1267.4 547.7h0M1272.7 564.1h0M1310.5 581.3h0M1315.0 598.3h0M1322.2 612.6h0M1325.1 630.1h0M1333.3 646.5h0M1356.5 659.5h0M1364.7 671.8h0M1396.7 689.2h0M1411.9 706.4h0M1413.7 720.5h0M1412.0 737.8h0M1411.0 754.4h0M1412.4 777.4h0M1411.5 799.3h0M1412.0 819.8h0M1134.3 68.2h0M1138.1 90.3h0M1141.1 111.6h0M1141.3 131.9h0M1142.1 150.9h0M1135.2 174.1h0M1136.3 198.4h0M1136.3 215.2h0M1136.8 237.4h0M1144.6 256.1h0M1140.6 276.4h0M1137.8 298.6h0M1140.3 316.3h0M1139.5 337.9h0M1149.8 356.8h0M1153.5 378.6h0M1167.4 394.9h0M1181.7 409.6h0M1190.0 426.0h0M1202.1 441.2h0M1197.7 456.4h0M1204.4 470.3h0M1207.6 483.8h0M1217.0 499.5h0M1234.4 515.0h0M1246.6 531.4h0M1259.2 548.1h0M1269.1 563.7h0M1279.6 577.2h0M1283.7 588.6h0M1291.8 605.0h0M1295.4 616.5h0M1303.8 628.7h0M1307.3 641.2h0M1327.6 656.0h0M1356.0 669.1h0M1363.8 684.0h0M1391.5 697.3h0M1387.0 709.9h0M1394.4 727.0h0M1400.0 743.5h0M1401.0 759.1h0M1405.2 780.8h0M1406.5 795.7h0M1408.7 814.7h0M1148.3 66.8h0M1149.0 87.3h0M1150.9 108.1h0M1146.1 128.2h0M1147.7 145.4h0M1150.1 167.3h0M1149.3 185.9h0M1150.8 204.7h0M1151.5 225.4h0M1152.4 244.4h0M1153.5 265.0h0M1154.6 285.4h0M1155.6 304.4h0M1156.9 322.1h0M1158.3 343.7h0M1167.1 360.9h0M1171.8 375.5h0M1182.6 388.8h0M1191.2 405.2h0M1207.1 422.8h0M1210.4 435.5h0M1220.8 451.6h0M1226.7 462.5h0M1232.1 477.8h0M1240.9 492.8h0M1250.1 507.2h0M1263.4 519.8h0M1267.9 530.0h0M1274.1 540.7h0M1283.8 554.2h0M1291.2 564.5h0M1307.2 577.0h0M1324.1 589.5h0M1347.0 603.4h0M1357.4 616.2h0M1361.6 627.1h0M1364.0 641.8h0M1369.2 655.3h0M1375.2 666.4h0M1386.4 679.1h0M1403.1 692.6h0M1411.6 705.6h0M1412.0 718.2h0M1416.6 734.3h0M1417.2 752.7h0M1417.5 766.4h0M1413.6 782.4h0M1417.0 801.4h0M1415.6 819.4h0M1145.1 65.9h0M1143.2 88.0h0M1143.8 113.5h0M1141.6 139.2h0M1141.4 163.0h0M1146.3 186.2h0M1147.4 204.6h0M1145.3 224.1h0M1146.6 247.3h0M1143.9 274.4h0M1151.0 293.7h0M1151.3 318.7h0M1150.6 345.3h0M1166.9 362.6h0M1180.7 386.2h0M1188.4 407.1h0M1198.4 424.8h0M1197.9 440.8h0M1215.4 455.3h0M1216.9 473.3h0M1225.2 491.4h0M1248.8 504.6h0M1253.5 522.7h0M1267.0 541.1h0M1275.7 555.5h0M1295.9 573.2h0M1312.5 588.2h0M1338.5 606.5h0M1357.9 621.9h0M1356.9 637.4h0M1342.2 649.8h0M1347.1 666.2h0M1372.0 680.5h0M1396.4 696.4h0M1399.1 711.7h0M1412.0 727.4h0M1409.4 744.8h0M1413.5 762.6h0M1414.1 779.3h0M1415.0 796.8h0M1418.6 819.2h0M1135.6 78.2h0M1128.8 96.4h0M1130.5 112.7h0M1131.9 132.2h0M1133.8 150.6h0M1135.5 168.5h0M1133.5 189.2h0M1135.3 207.4h0M1131.8 222.2h0M1137.6 238.5h0M1138.3 254.4h0M1140.2 270.8h0M1137.4 291.0h0M1139.8 310.9h0M1138.6 331.6h0M1139.0 345.8h0M1142.5 364.0h0M1150.4 380.5h0M1142.4 393.4h0M1149.3 407.7h0M1165.9 421.8h0M1181.6 434.2h0M1188.1 446.9h0M1176.1 458.7h0M1200.1 473.0h0M1208.9 486.4h0M1212.9 498.5h0M1225.9 510.2h0M1237.2 523.2h0M1242.5 534.5h0M1249.3 545.1h0M1255.5 556.5h0M1263.4 569.4h0M1270.4 580.5h0M1273.1 590.5h0M1270.2 604.4h0M1286.0 616.3h0M1287.4 629.1h0M1304.7 642.7h0M1306.0 653.1h0M1326.3 664.9h0M1349.5 676.3h0M1364.7 687.3h0M1378.2 701.4h0M1385.0 711.8h0M1385.3 725.7h0M1388.3 740.7h0M1395.3 754.4h0M1398.2 769.6h0M1402.6 787.9h0M1139.8 78.3h0M1139.0 99.0h0M1139.1 126.0h0M1141.5 147.9h0M1140.0 170.0h0M1140.8 196.2h0M1135.8 217.2h0M1137.6 239.6h0M1137.5 265.0h0M1137.7 284.9h0M1141.5 312.4h0M1148.4 335.6h0M1154.5 360.7h0M1157.2 383.0h0M1170.3 405.5h0M1178.9 421.1h0M1190.5 438.2h0M1197.2 454.5h0M1199.7 468.5h0M1205.6 483.4h0M1215.2 497.7h0M1227.6 511.3h0M1243.9 528.5h0M1253.6 543.5h0M1266.4 559.5h0M1280.5 578.6h0M1288.6 594.5h0M1300.3 612.3h0M1307.8 625.8h0M1316.7 639.9h0M1321.7 653.7h0M1353.9 672.3h0M1383.3 685.1h0M1403.4 703.9h0M1411.4 717.6h0M1410.7 737.5h0M1413.6 758.3h0M1409.9 779.9h0M1411.5 797.7h0M1412.9 820.2h0M1123.1 63.2h0M1125.8 88.9h0M1130.3 114.7h0M1125.6 134.8h0M1125.1 156.7h0M1127.9 176.9h0M1126.6 196.2h0M1123.9 216.0h0M1125.5 243.8h0M1123.5 264.5h0M1126.6 288.5h0M1127.9 312.5h0M1131.6 335.1h0M1132.3 357.0h0M1136.1 374.6h0M1132.3 393.7h0M1159.5 410.9h0M1174.9 430.2h0M1170.3 446.8h0M1183.9 462.6h0M1197.1 481.1h0M1204.9 494.8h0M1218.4 512.5h0M1235.4 531.8h0M1246.6 549.7h0M1251.6 564.6h0M1274.8 582.8h0M1279.1 600.0h0M1282.0 614.8h0M1296.4 630.1h0M1301.5 649.0h0M1312.1 662.4h0M1337.5 677.2h0M1363.5 694.5h0M1368.4 709.9h0M1381.7 726.2h0M1392.1 744.7h0M1400.5 767.5h0M1399.7 786.9h0M1121.6 72.8h0M1129.1 92.1h0M1122.7 112.9h0M1125.2 134.3h0M1124.4 152.4h0M1125.2 168.5h0M1122.6 184.0h0M1126.3 203.0h0M1124.6 217.8h0M1125.9 238.9h0M1128.3 255.3h0M1127.4 275.2h0M1126.0 292.2h0M1131.5 308.9h0M1128.0 328.0h0M1136.1 344.7h0M1146.6 364.5h0M1146.7 379.6h0M1159.5 396.0h0M1150.0 411.7h0M1173.2 427.2h0M1179.6 438.5h0M1166.9 453.8h0M1183.0 468.4h0M1177.0 481.0h0M1184.3 491.1h0M1197.3 505.6h0M1213.6 516.5h0M1223.4 526.7h0M1240.6 540.7h0M1250.4 551.2h0M1261.6 564.6h0M1261.3 575.1h0M1268.4 586.9h0M1271.5 599.8h0M1280.0 613.3h0M1271.8 625.0h0M1275.8 635.8h0M1285.0 647.0h0M1300.6 660.2h0M1326.3 672.6h0M1348.3 683.2h0M1360.0 695.9h0M1358.6 705.9h0M1349.4 716.7h0M1365.8 730.2h0M1376.0 745.4h0M1389.8 763.8h0M1126.6 70.4h0M1132.2 91.6h0M1131.4 113.3h0M1131.6 138.4h0M1128.8 157.7h0M1133.3 184.6h0M1134.7 210.3h0M1134.5 229.8h0M1132.8 257.6h0M1130.0 284.1h0M1132.9 304.3h0M1131.2 323.5h0M1141.7 351.5h0M1152.7 373.9h0M1154.6 396.7h0M1166.4 416.1h0M1171.8 434.2h0M1181.9 451.6h0M1184.7 471.0h0M1193.1 486.7h0M1202.9 503.1h0M1225.7 520.3h0M1234.8 533.8h0M1244.1 547.7h0M1264.5 566.4h0M1262.1 583.4h0M1270.5 599.7h0M1285.5 615.6h0M1295.9 630.8h0M1309.0 646.9h0M1325.1 664.4h0M1363.4 683.3h0M1375.3 701.8h0M1372.3 714.8h0M1382.4 730.4h0M1399.5 746.1h0M1134.4 75.5h0M1133.6 99.4h0M1137.1 122.4h0M1136.6 141.5h0M1139.5 163.9h0M1141.3 180.4h0M1140.8 202.9h0M1141.7 221.2h0M1142.3 238.3h0M1142.3 256.4h0M1143.5 276.3h0M1140.5 293.1h0M1144.9 312.2h0M1147.0 333.2h0M1151.6 351.6h0M1160.0 372.6h0M1173.8 389.0h0M1184.9 407.5h0M1198.4 423.0h0M1201.4 438.1h0M1199.6 450.9h0M1202.1 467.9h0M1217.3 482.7h0M1216.7 496.7h0M1236.1 510.2h0M1247.6 522.6h0M1256.1 534.2h0M1260.6 547.8h0M1269.2 559.7h0M1277.2 571.7h0M1285.6 582.8h0M1286.3 594.1h0M1296.8 609.9h0M1299.9 624.8h0M1308.0 636.7h0M1312.9 650.5h0M1331.3 666.8h0M1361.4 683.0h0M1378.0 694.4h0M1381.2 710.4h0M1398.4 722.8h0M1402.7 739.7h0M1405.5 756.8h0M1407.5 772.9h0M1408.3 791.6h0M1409.9 806.7h0M1142.5 73.5h0M1140.4 94.3h0M1140.6 116.4h0M1140.1 138.7h0M1137.2 158.8h0M1144.0 181.0h0M1138.4 206.2h0M1139.4 225.8h0M1139.1 243.6h0M1137.8 263.5h0M1141.6 288.9h0M1137.2 310.8h0M1144.1 335.5h0M1150.5 356.9h0M1162.1 380.6h0M1163.6 400.4h0M1183.7 415.6h0M1195.9 432.1h0M1204.8 450.7h0M1208.2 466.1h0M1209.4 480.0h0M1220.6 493.7h0M1233.0 505.9h0M1247.4 521.1h0M1265.6 537.1h0M1269.9 550.3h0M1282.9 564.0h0M1286.8 579.8h0M1288.3 592.8h0M1295.0 609.1h0M1315.7 623.9h0M1330.0 640.4h0M1329.8 656.3h0M1343.5 670.8h0M1369.3 686.8h0M1387.7 702.4h0M1398.6 716.4h0M1402.3 729.3h0M1404.8 748.3h0M1131.5 63.6h0M1136.0 87.1h0M1132.6 114.6h0M1129.3 138.1h0M1130.7 169.6h0M1134.6 198.0h0M1133.8 225.2h0M1136.4 251.7h0M1134.0 276.6h0M1135.6 303.2h0M1133.9 330.4h0M1143.5 361.6h0M1148.6 382.8h0M1162.9 409.7h0M1188.5 432.0h0M1195.6 449.8h0M1196.5 469.8h0M1209.5 488.9h0M1219.2 507.1h0M1228.1 522.4h0M1243.3 539.4h0M1258.9 561.2h0M1273.6 578.6h0M1272.0 598.0h0M1287.0 613.3h0M1296.6 634.2h0M1311.5 656.1h0M1338.3 676.0h0M1360.1 693.2h0M1365.2 711.7h0M1389.0 730.9h0M1394.7 752.6h0M1403.0 775.0h0M1406.7 802.3h0M1124.2 76.9h0M1127.2 102.2h0M1126.6 121.6h0M1127.4 147.3h0M1127.3 167.7h0M1131.2 188.0h0M1131.6 213.1h0M1134.8 239.2h0M1132.2 265.3h0M1136.4 286.5h0M1134.6 310.0h0M1137.0 336.8h0M1143.1 358.4h0M1146.0 378.4h0M1152.1 395.5h0M1154.1 416.4h0M1161.9 434.4h0M1175.4 451.3h0M1175.3 469.0h0M1180.2 483.3h0M1190.0 499.1h0M1215.3 514.9h0M1225.4 531.7h0M1242.3 544.7h0M1244.8 559.0h0M1273.1 576.5h0M1270.7 593.3h0M1271.5 609.4h0M1284.7 625.9h0M1290.4 642.5h0M1298.2 657.4h0M1320.2 671.5h0M1355.1 686.7h0M1362.7 703.6h0M1359.6 717.8h0M1385.7 733.4h0M1384.6 751.6h0M1385.3 768.3h0M1395.9 785.4h0M1397.2 807.5h0M1138.2 70.4h0M1139.5 95.2h0M1136.6 115.4h0M1136.3 143.5h0M1141.1 170.3h0M1139.1 191.5h0M1138.2 213.2h0M1140.6 237.3h0M1137.5 257.1h0M1135.0 278.5h0M1139.8 302.2h0M1146.8 323.9h0M1145.0 352.6h0M1160.7 371.4h0M1170.3 396.0h0M1182.6 418.0h0M1193.8 435.3h0M1196.9 454.9h0M1204.5 475.1h0M1214.7 493.9h0M1235.4 509.5h0M1248.7 525.2h0M1250.0 539.6h0M1263.9 556.9h0M1275.2 575.0h0M1285.0 593.1h0M1292.2 609.8h0M1295.9 628.6h0M1293.3 642.4h0M1306.0 657.3h0M1328.6 670.7h0M1362.2 685.7h0M1369.1 704.6h0M1381.8 718.0h0M1394.0 738.6h0M1394.9 761.8h0M1401.2 784.1h0M1404.3 808.7h0M1122.1 63.3h0M1125.7 84.3h0M1124.6 105.1h0M1133.3 125.1h0M1126.8 144.1h0M1131.6 163.7h0M1124.7 181.9h0M1126.1 205.1h0M1127.7 223.7h0M1123.5 245.0h0M1123.5 269.3h0M1125.0 293.2h0M1124.3 317.2h0M1124.9 335.2h0M1125.4 354.4h0M1127.0 372.1h0M1131.1 389.6h0M1134.3 406.8h0M1142.0 420.0h0M1153.7 436.8h0M1158.4 450.6h0M1165.5 464.1h0M1174.9 478.1h0M1196.0 493.6h0M1211.7 509.4h0M1236.5 522.1h0M1244.4 537.0h0M1252.3 549.1h0M1263.9 564.1h0M1272.5 578.3h0M1276.7 593.9h0M1271.7 609.0h0M1279.2 624.8h0M1276.0 637.0h0M1290.6 649.9h0M1298.5 663.4h0M1330.6 679.1h0M1340.8 694.9h0M1345.0 709.8h0M1365.5 725.1h0M1386.1 738.6h0M1123.7 71.1h0M1123.0 94.4h0M1122.7 122.7h0M1126.7 148.8h0M1126.5 177.9h0M1129.2 207.4h0M1127.0 235.9h0M1133.7 257.8h0M1131.7 279.9h0M1131.0 303.8h0M1130.4 328.6h0M1137.1 354.2h0M1140.5 376.6h0M1147.6 398.6h0M1169.0 422.3h0M1180.7 440.8h0M1175.0 460.3h0M1177.2 481.4h0M1207.3 500.6h0M1229.2 519.6h0M1240.9 539.0h0M1241.1 554.7h0M1260.7 569.8h0M1267.1 586.0h0M1262.6 607.7h0M1271.3 626.5h0M1280.0 647.2h0M1306.3 666.9h0M1332.1 684.3h0M1352.5 704.8h0M1360.7 726.6h0M1380.1 746.2h0M1386.6 771.7h0M1396.8 796.9h0M1397.2 824.7h0M1147.7 73.1h0M1150.8 102.2h0M1151.1 131.5h0M1151.3 151.5h0M1149.8 178.0h0M1148.3 201.5h0M1151.9 222.4h0M1152.5 248.5h0M1154.1 274.6h0M1154.7 294.6h0M1155.2 321.7h0M1160.2 349.9h0M1174.1 375.5h0M1191.1 399.8h0M1205.0 416.8h0M1217.1 436.4h0M1214.3 451.2h0M1211.9 467.3h0M1219.3 485.2h0M1230.3 503.1h0M1247.8 518.8h0M1258.2 537.4h0M1269.5 554.0h0M1289.6 570.1h0M1309.4 586.3h0M1331.8 602.4h0M1329.4 621.5h0M1331.3 639.1h0M1346.6 658.6h0M1357.4 672.7h0M1382.2 688.1h0M1398.6 701.7h0M1396.3 718.5h0M1405.6 736.0h0M1412.6 760.7h0M1417.2 779.4h0M1417.6 800.4h0M1417.9 817.9h0M1128.7 68.5h0M1128.1 90.1h0M1129.2 113.7h0M1126.6 131.1h0M1124.1 151.1h0M1129.7 171.4h0M1131.7 190.9h0M1128.4 210.3h0M1133.3 229.4h0M1132.1 252.1h0M1130.7 269.2h0M1131.7 289.8h0M1131.5 309.0h0M1134.9 330.1h0M1131.8 347.0h0M1129.1 363.3h0M1148.4 385.0h0M1150.4 403.1h0M1162.1 421.3h0M1169.7 436.2h0M1184.0 454.4h0M1189.9 466.5h0M1202.7 478.3h0M1208.2 490.0h0M1220.2 502.9h0M1237.8 519.7h0M1240.7 533.2h0M1253.0 547.5h0M1260.4 563.1h0M1274.0 574.5h0M1272.1 590.8h0M1267.9 605.9h0M1278.2 618.1h0M1273.6 632.1h0M1294.8 647.6h0M1313.0 662.3h0M1345.0 678.3h0M1357.3 693.0h0M1354.3 707.3h0M1378.9 724.0h0M1386.1 741.2h0M1393.9 758.2h0M1397.8 774.8h0M1398.1 792.2h0M1402.2 810.1h0M1131.1 74.2h0M1129.5 93.8h0M1133.4 116.8h0M1132.5 135.7h0M1135.7 156.2h0M1134.2 179.1h0M1128.8 195.8h0M1131.2 214.3h0M1132.9 231.1h0M1135.2 248.8h0M1129.3 266.6h0M1133.0 285.8h0M1131.5 306.8h0M1138.0 323.9h0M1141.9 346.7h0M1146.7 363.8h0M1152.1 385.7h0M1157.0 399.9h0M1175.0 415.1h0M1181.5 430.1h0M1189.4 447.6h0M1176.3 463.8h0M1177.3 479.4h0M1211.0 496.2h0M1222.7 508.1h0M1235.6 524.9h0M1244.6 536.2h0M1254.8 552.1h0M1254.4 567.0h0M1261.8 580.2h0M1264.0 594.1h0M1271.5 607.0h0M1288.5 623.0h0M1285.9 637.7h0M1306.5 652.2h0M1317.7 664.2h0M1340.0 679.5h0M1345.5 691.9h0M1362.4 708.4h0M1376.8 721.4h0M1391.6 735.6h0M1397.4 756.8h0M1403.1 772.7h0M1403.0 787.8h0M1409.2 804.7h0M1409.7 825.2h0M1139.3 76.8h0M1146.5 103.4h0M1145.2 127.3h0M1145.1 156.3h0M1147.1 180.6h0M1151.0 208.7h0M1148.1 232.9h0M1147.0 256.2h0M1146.8 277.8h0M1148.8 299.4h0M1146.4 328.1h0M1156.0 352.6h0M1171.5 379.1h0M1187.0 400.5h0M1198.9 422.7h0M1210.3 442.1h0M1202.4 458.3h0M1210.9 473.0h0M1222.5 489.0h0M1245.4 505.8h0M1260.4 525.0h0M1261.3 538.6h0M1277.9 554.7h0M1297.5 572.7h0M1302.8 588.6h0M1302.8 602.3h0M1300.7 620.5h0M1305.8 634.3h0M1321.5 648.5h0M1325.0 662.2h0M1371.9 679.0h0M1394.4 693.8h0M1397.2 712.5h0M1414.5 730.2h0M1413.0 747.1h0M1411.4 771.8h0M1415.0 797.8h0M1413.4 822.7h0M1144.8 73.5h0M1142.9 102.4h0M1138.9 132.9h0M1137.9 155.3h0M1136.9 179.1h0M1141.2 208.9h0M1145.1 231.5h0M1137.7 263.2h0M1142.0 291.5h0M1140.6 317.0h0M1144.3 340.9h0M1153.4 361.3h0M1170.5 387.5h0M1180.2 407.6h0M1207.3 432.7h0M1213.4 451.7h0M1223.3 467.2h0M1225.4 485.2h0M1239.9 502.9h0M1254.9 517.7h0M1267.8 536.5h0M1270.0 551.9h0M1277.8 570.2h0M1299.6 589.3h0M1302.2 604.4h0M1304.1 622.8h0M1328.4 639.0h0M1322.8 657.2h0M1344.1 671.6h0M1380.1 689.4h0M1389.6 708.9h0M1404.9 725.3h0M1404.1 750.4h0M1126.3 63.2h0M1126.1 86.8h0M1126.7 109.9h0M1122.6 132.2h0M1122.1 153.9h0M1122.5 181.6h0M1123.0 201.4h0M1124.4 230.4h0M1123.5 251.6h0M1124.5 274.2h0M1123.6 296.6h0M1124.6 325.5h0M1125.2 345.0h0M1127.0 372.3h0M1133.5 390.5h0M1134.8 411.6h0M1152.5 433.5h0M1158.1 449.6h0M1166.3 465.3h0M1180.2 485.5h0M1190.6 499.8h0M1212.7 515.9h0M1231.6 533.6h0M1235.2 547.7h0M1245.0 561.5h0M1253.9 578.5h0M1260.4 596.7h0M1264.0 611.2h0M1270.3 626.8h0M1277.9 645.1h0M1292.6 659.2h0M1330.3 678.6h0M1340.0 693.9h0M1350.3 709.4h0M1358.6 725.2h0M1385.8 746.1h0M1129.6 72.8h0M1128.1 103.4h0M1127.3 129.0h0M1128.5 158.6h0M1136.1 185.4h0M1134.7 210.4h0M1133.3 235.7h0M1131.4 258.2h0M1139.6 289.3h0M1137.8 317.1h0M1138.1 341.1h0M1154.4 363.1h0M1160.8 392.6h0M1163.3 411.0h0M1187.6 435.9h0M1198.5 459.9h0M1203.5 479.3h0M1217.2 497.4h0M1237.0 516.1h0M1247.1 535.6h0M1256.0 550.6h0M1273.0 570.4h0M1285.2 589.0h0M1297.2 609.0h0M1327.7 627.6h0M1324.4 649.3h0M1350.8 671.0h0M1380.5 693.3h0M1391.3 708.9h0M1394.1 727.3h0M1407.0 749.1h0M1146.3 71.9h0M1145.9 90.3h0M1146.4 114.4h0M1146.2 140.6h0M1143.4 161.6h0M1141.8 181.3h0M1142.6 204.5h0M1148.0 222.5h0M1146.2 246.6h0M1146.6 272.0h0M1151.6 296.4h0M1147.3 314.5h0M1151.1 333.1h0M1157.0 351.4h0M1164.9 368.7h0M1173.9 389.3h0M1192.7 405.6h0M1203.6 425.8h0M1203.4 440.3h0M1203.2 456.5h0M1207.8 472.3h0M1226.3 488.8h0M1231.4 504.3h0M1249.9 517.8h0M1265.4 531.7h0M1263.3 545.8h0M1274.3 562.8h0M1289.0 579.1h0M1297.6 596.1h0M1327.3 611.8h0M1325.7 625.3h0M1319.1 637.5h0M1330.5 655.0h0M1339.8 668.3h0M1373.4 685.9h0M1392.6 700.5h0M1402.2 718.1h0M1408.0 735.3h0M1411.7 753.4h0M1416.0 769.5h0M1414.3 787.8h0M1417.2 804.9h0M1139.8 64.4h0M1140.1 82.7h0M1143.8 101.5h0M1141.6 116.6h0M1146.2 136.3h0M1148.0 156.1h0M1148.2 174.8h0M1147.7 191.2h0M1143.2 207.8h0M1141.3 225.3h0M1139.0 240.5h0M1143.8 256.9h0M1142.5 271.5h0M1147.8 288.4h0M1153.5 302.8h0M1153.9 321.6h0M1151.6 340.5h0M1158.3 355.8h0M1165.0 371.8h0M1171.5 385.4h0M1184.8 403.1h0M1192.3 414.9h0M1201.7 427.3h0M1211.0 441.4h0M1205.3 452.1h0M1199.4 464.0h0M1203.8 474.2h0M1216.0 488.2h0M1222.3 502.2h0M1241.7 516.7h0M1247.8 531.2h0M1259.0 545.3h0M1270.6 559.7h0M1285.9 573.4h0M1287.2 586.6h0M1309.5 600.1h0M1314.8 612.3h0M1337.9 624.2h0M1328.6 634.8h0M1351.3 645.7h0M1369.4 655.7h0M1366.1 668.9h0M1386.3 679.0h0M1394.0 690.3h0M1403.2 703.5h0M1399.4 715.6h0M1409.1 728.0h0M1417.5 740.9h0M1413.4 757.9h0M1413.6 773.6h0M1417.6 788.1h0M1416.6 802.6h0M1414.3 816.5h0" stroke="#00ffff" stroke-width="7.1" stroke-linecap="round" fill="none"/>
<polyline points="1142.7,19.3 1143.5,63.0 1144.8,106.7 1146.6,150.5 1148.1,194.2 1149.6,237.9 1151.3,281.6 1153.2,347.2 1159.7,456.5 1214.4,565.8 1311.2,675.1 1358.2,784.4" fill="none" stroke="#ff0000" stroke-width="8.4" stroke-linejoin="round"/>
<polyline points="1127.3,52.1 1129.4,161.4 1135.3,270.7 1157.7,380.0 1217.7,489.3 1291.2,598.6 1376.3,707.9 1405.8,817.2" fill="none" stroke="#0000ff" stroke-width="2.7" stroke-linejoin="round"/>
<path d="M1127.3 52.1h0M1129.4 161.4h0M1135.3 270.7h0M1157.7 380.0h0M1217.7 489.3h0M1291.2 598.6h0M1376.3 707.9h0M1405.8 817.2h0" stroke="#0000ff" stroke-width="12" stroke-linecap="round" fill="none"/>
<polyline points="1142.7,19.3 1143.5,63.0 1144.8,106.7 1146.6,150.5 1148.1,194.2 1149.6,237.9 1151.3,281.6 1153.2,347.2 1159.7,456.5 1214.4,565.8 1311.2,675.1 1358.2,784.4" fill="none" stroke="#ff0000" stroke-width="2.7" stroke-linejoin="round"/>
<path d="M1142.7 19.3h0M1143.5 63.0h0M1144.8 106.7h0M1146.6 150.5h0M1148.1 194.2h0M1149.6 237.9h0M1151.3 281.6h0M1153.2 347.2h0M1159.7 456.5h0M1214.4 565.8h0M1311.2 675.1h0M1358.2 784.4h0" stroke="#ff0000" stroke-width="12" stroke-linecap="round" fill="none"/>
<polyline points="1121.2,19.3 1121.2,63.0 1122.4,106.7 1124.2,150.5 1125.5,194.2 1126.5,237.9 1127.5,281.6 1129.1,347.2 1162.6,456.5 1278.1,565.8 1349.4,675.1 1366.2,784.4" fill="none" stroke="#008000" stroke-width="2.7" stroke-linejoin="round"/>
<path d="M1121.2 19.3h0M1121.2 63.0h0M1122.4 106.7h0M1124.2 150.5h0M1125.5 194.2h0M1126.5 237.9h0M1127.5 281.6h0M1129.1 347.2h0M1162.6 456.5h0M1278.1 565.8h0M1349.4 675.1h0M1366.2 784.4h0" stroke="#008000" stroke-width="12" stroke-linecap="round" fill="none"/>
<polyline points="1134.5,30.1 1134.5,53.0 1135.3,77.1 1135.3,102.8 1136.0,130.3 1136.0,160.1 1137.1,192.6 1138.4,228.6 1139.1,268.6 1140.4,313.7 1141.0,364.9 1159.3,423.6 1207.7,491.5 1264.6,570.4 1343.2,663.0 1382.2,772.0" fill="none" stroke="#ff00ff" stroke-width="2.7" stroke-linejoin="round"/>
<path d="M1134.5 30.1h0M1134.5 53.0h0M1135.3 77.1h0M1135.3 102.8h0M1136.0 130.3h0M1136.0 160.1h0M1137.1 192.6h0M1138.4 228.6h0M1139.1 268.6h0M1140.4 313.7h0M1141.0 364.9h0M1159.3 423.6h0M1207.7 491.5h0M1264.6 570.4h0M1343.2 663.0h0M1382.2 772.0h0" stroke="#ff00ff" stroke-width="12" stroke-linecap="round" fill="none"/>
</g>
<rect x="1067.5" y="19.5" width="404.00" height="795.00" fill="none" stroke="#000" stroke-width="1.2"/>
<path d="M1139.5 814.4v6M1242.5 814.4v6M1344.5 814.4v6M1447.5 814.4v6M1067.6 19.5h-6M1067.6 128.5h-6M1067.6 237.5h-6M1067.6 347.5h-6M1067.6 456.5h-6M1067.6 565.5h-6M1067.6 675.5h-6M1067.6 784.5h-6" fill="none" stroke="#000" stroke-width="1.15"/>
<text x="1137.90" y="856.10" font-size="17.66" text-anchor="middle" textLength="42.43" lengthAdjust="spacingAndGlyphs" transform="rotate(-45 1137.90 850.20)" fill="#000">1022</text>
<text x="1240.50" y="856.10" font-size="17.66" text-anchor="middle" textLength="42.43" lengthAdjust="spacingAndGlyphs" transform="rotate(-45 1240.50 850.20)" fill="#000">1023</text>
<text x="1343.10" y="856.10" font-size="17.66" text-anchor="middle" textLength="42.43" lengthAdjust="spacingAndGlyphs" transform="rotate(-45 1343.10 850.20)" fill="#000">1024</text>
<text x="1445.70" y="856.10" font-size="17.66" text-anchor="middle" textLength="42.43" lengthAdjust="spacingAndGlyphs" transform="rotate(-45 1445.70 850.20)" fill="#000">1025</text>
<text x="29.10" y="419.00" font-size="23.54" text-anchor="middle" font-weight="bold" stroke="#000" stroke-width="0.5" textLength="127.06" lengthAdjust="spacingAndGlyphs" transform="rotate(-90 29.10 419.00)" fill="#000">Depth (m)</text>
<text x="168.20" y="871.90" font-size="23.54" font-weight="bold" stroke="#000" stroke-width="0.5" textLength="165.63" lengthAdjust="spacingAndGlyphs" fill="#000">Temperature</text>
<text x="343.60" y="871.90" font-size="23.54" font-weight="bold" stroke="#000" stroke-width="0.5" fill="#000">(</text>
<text x="352.60" y="864.30" font-size="16.42" font-style="italic" fill="#000">o</text>
<text x="363.30" y="871.90" font-size="23.54" font-style="italic" fill="#000">C</text>
<text x="380.00" y="871.90" font-size="23.54" font-weight="bold" stroke="#000" stroke-width="0.5" fill="#000">)</text>
<text x="774.10" y="869.60" font-size="23.54" text-anchor="middle" font-weight="bold" stroke="#000" stroke-width="0.5" textLength="94.78" lengthAdjust="spacingAndGlyphs" fill="#000">Salinity</text>
<text x="1269.40" y="896.00" font-size="23.54" text-anchor="middle" font-weight="bold" stroke="#000" stroke-width="0.5" textLength="209.59" lengthAdjust="spacingAndGlyphs" fill="#000">Density (kg m-3)</text>
<text x="423.40" y="918.30" font-size="18.36" font-style="italic" textLength="237.10" lengthAdjust="spacingAndGlyphs" fill="#000">Ocean Heat Content (kJ/cm</text>
<text x="675.00" y="918.30" font-size="18.36" font-style="italic" textLength="135.28" lengthAdjust="spacingAndGlyphs" fill="#000">2) - Glider: N/A,</text>
<text x="819.60" y="918.30" font-size="18.36" font-style="italic" textLength="105.50" lengthAdjust="spacingAndGlyphs" fill="#000">RTOFS: N/A,</text>
<text x="936.80" y="918.30" font-size="18.36" font-style="italic" textLength="92.71" lengthAdjust="spacingAndGlyphs" fill="#000">ESPC: N/A,</text>
<text x="1039.60" y="918.30" font-size="18.36" font-style="italic" textLength="112.24" lengthAdjust="spacingAndGlyphs" fill="#000">CMEMS: N/A,</text>
<text x="667.20" y="922.90" font-size="23.31" text-anchor="middle" font-style="italic" fill="#000">^</text>
<text x="1522.80" y="36.40" font-size="23.54" font-weight="bold" stroke="#000" stroke-width="0.5" textLength="379.00" lengthAdjust="spacingAndGlyphs" fill="#000">Comparison Date: 2025-09-08</text>
<text x="1522.80" y="89.60" font-size="23.54" font-weight="bold" stroke="#000" stroke-width="0.5" textLength="151.67" lengthAdjust="spacingAndGlyphs" fill="#000">Glider: ru43</text>
<text x="1522.80" y="116.20" font-size="23.54" font-weight="bold" stroke="#000" stroke-width="0.5" textLength="144.29" lengthAdjust="spacingAndGlyphs" fill="#000">Profiles: 34</text>
<text x="1522.80" y="142.80" font-size="23.54" font-weight="bold" stroke="#000" stroke-width="0.5" textLength="338.97" lengthAdjust="spacingAndGlyphs" fill="#000">First: 2025-09-08 00:35:16</text>
<text x="1522.80" y="169.40" font-size="23.54" font-weight="bold" stroke="#000" stroke-width="0.5" textLength="334.31" lengthAdjust="spacingAndGlyphs" fill="#000">Last: 2025-09-08 15:46:27</text>
<text x="1522.80" y="196.00" font-size="23.54" font-weight="bold" stroke="#000" stroke-width="0.5" textLength="338.67" lengthAdjust="spacingAndGlyphs" fill="#000">Method: Nearest-Neighbor</text>
<defs><clipPath id="cm"><rect x="1562.7" y="249.0" width="404.1" height="335.0"/></clipPath></defs>
<rect x="1564.2" y="249.0" width="402.6" height="335.0" fill="#97b6e1"/>
<g clip-path="url(#cm)" fill="none" stroke-linejoin="round" stroke-linecap="round">
<path d="M1562.7 249.0L1791.7 249.0L1791.7 249.4L1786.3 251.8L1781.0 253.9L1777.8 258.2L1773.5 259.3L1769.2 260.3L1764.9 261.4L1760.6 263.0L1758.5 265.7L1755.3 266.8L1754.2 271.0L1751.0 273.2L1748.9 275.3L1747.8 279.6L1745.7 282.8L1744.1 286.0L1741.4 290.3L1740.3 293.5L1740.8 297.8L1742.4 301.0L1745.7 299.9L1748.3 301.5L1746.7 304.2L1743.5 304.8L1740.3 306.4L1738.7 309.6L1736.0 311.7L1734.4 314.4L1737.1 317.1L1741.4 316.5L1743.5 319.2L1745.7 322.4L1747.3 325.6L1747.8 329.9L1749.4 334.2L1753.1 336.3L1758.5 335.8L1762.8 334.7L1763.9 331.0L1762.8 326.7L1760.6 324.6L1758.0 324.6L1759.6 322.9L1762.8 323.5L1764.9 326.7L1766.5 331.0L1767.1 336.3L1767.1 336.4L1765.5 341.8L1764.4 344.4L1764.9 339.1L1759.6 340.2L1754.2 341.8L1749.9 343.9L1745.7 345.0L1743.5 342.0L1744.8 339.1L1741.4 340.2L1738.2 342.3L1735.0 344.4L1732.3 346.1L1727.5 347.1L1723.2 347.7L1720.0 349.3L1712.5 350.9L1703.9 351.9L1696.4 354.1L1690.0 355.2L1686.6 355.7L1680.2 354.1L1674.9 357.3L1668.5 359.4L1662.0 362.1L1658.3 364.3L1654.5 368.5L1649.2 372.8L1644.9 376.0L1642.8 380.3L1640.6 384.6L1643.8 386.7L1648.1 385.1L1649.7 389.9L1649.2 394.2L1647.0 399.6L1644.9 404.9L1643.8 410.3L1640.6 416.7L1636.3 422.0L1632.1 426.3L1628.9 432.8L1626.7 438.2L1623.5 442.5L1621.4 443.0L1621.9 439.3L1623.5 435.0L1619.2 433.4L1616.0 433.9L1611.7 430.7L1608.5 427.5L1606.4 425.9L1607.4 428.6L1608.5 433.9L1609.6 438.2L1611.7 441.4L1614.9 445.7L1618.1 448.4L1619.2 452.1L1619.2 457.5L1618.7 462.8L1616.0 468.2L1612.8 473.5L1609.6 478.9L1606.4 484.2L1604.2 489.6L1602.1 494.9L1598.9 501.3L1595.7 506.7L1592.5 509.9L1590.9 505.6L1590.9 500.3L1592.5 494.9L1594.6 489.6L1597.8 484.2L1600.0 479.9L1595.7 477.8L1591.9 473.5L1589.3 468.2L1586.0 462.8L1583.9 457.5L1582.3 452.1L1581.8 444.6L1582.3 438.2L1583.9 432.8L1587.1 427.5L1591.4 423.2L1594.6 420.0L1590.3 420.0L1587.1 423.2L1582.8 427.5L1580.2 432.8L1578.5 438.2L1577.7 444.6L1578.0 452.1L1579.1 457.5L1580.7 462.8L1582.3 468.2L1583.4 475.7L1583.9 482.1L1583.4 489.6L1583.9 497.1L1583.4 505.6L1583.9 513.1L1585.0 512.8L1591.9 515.5L1592.5 521.4L1594.6 527.8L1596.7 534.3L1594.6 540.7L1590.3 542.8L1586.0 542.8L1581.8 545.0L1576.4 547.1L1571.1 548.7L1572.1 550.8L1579.6 550.3L1587.1 549.8L1590.3 551.4L1590.9 559.9L1593.5 563.1L1590.3 569.6L1587.1 571.7L1581.8 569.6L1576.4 565.3L1572.1 565.3L1567.8 566.4L1572.1 569.6L1577.5 572.8L1576.4 578.1L1573.2 584.0L1573.2 584.0L1562.7 584.0Z" fill="#d2b48c"/>
<path d="M1644.4 381.4L1646.0 377.1L1649.2 372.8L1653.5 369.6L1656.7 366.4L1662.0 367.5L1666.3 366.9L1672.7 367.5L1681.3 365.3L1689.9 364.3L1695.0 361.6L1696.4 361.0L1703.9 358.0L1705.0 359.4L1699.6 362.1L1696.4 365.3L1702.8 363.7L1711.4 362.1L1703.9 366.2L1696.4 369.8L1690.0 372.8L1687.7 372.0L1679.2 375.2L1670.6 377.3L1662.0 378.9L1653.5 380.5L1647.0 380.5Z" fill="#d2b48c" stroke="#000" stroke-width="1.6"/>
<path d="M1648.1 381.2L1662.0 379.4L1679.2 375.8L1693.1 370.7" stroke="#000" stroke-width="1.6"/>
<path d="M1875.9 249.4L1917.1 249.4L1914.9 252.8L1909.6 257.1L1904.2 259.8L1899.9 260.3L1898.3 264.6L1893.5 267.8L1890.3 270.5L1887.1 268.4L1885.5 262.5L1882.8 258.2L1879.6 256.1L1877.5 260.3L1875.3 256.1L1874.8 250.7Z" fill="#d2b48c"/>
<path d="M1917.1 249.4L1915.2 253.3L1913.7 255.2L1911.8 256.5L1908.6 257.1L1907.8 258.8L1905.0 259.0L1899.9 259.8L1899.2 262.6L1897.4 264.1L1895.5 267.1L1894.0 267.1L1890.9 269.8L1887.3 267.6L1885.3 266.2L1884.9 261.9L1885.1 261.1L1882.4 259.1L1879.7 256.4L1877.9 259.1L1877.8 261.3L1877.2 257.8L1875.0 255.4L1874.3 252.5L1874.4 250.9L1874.9 249.8" stroke="#000" stroke-width="3.0"/>
<path d="M1879.1 272.1L1880.1 268.7" stroke="#000" stroke-width="2.4"/>
<path d="M1562.7 248.8L1587.6 248.8L1587.1 250.7L1583.9 253.9L1585.5 257.1L1586.0 261.4L1585.5 265.2L1583.9 266.8L1580.7 267.3L1578.0 268.9L1575.3 271.0L1572.1 273.2L1567.8 274.8L1564.6 276.9L1562.7 278.0Z" fill="#b5b5b5"/>
<path d="M1588.7 278.3L1593.5 278.7L1598.9 279.8L1598.3 280.9L1592.5 280.5Z" fill="#b5b5b5"/>
<path d="M1579.1 290.3L1583.4 295.7M1576.4 292.4L1577.5 296.7M1570.0 293.5L1571.1 299.9L1576.4 307.4M1565.7 302.1L1566.2 310.6" stroke="#b5b5b5" stroke-width="0.9"/>
<path d="M1723.2 259.8L1726.4 260.9L1729.6 266.2L1727.5 266.8L1725.3 264.1L1723.4 263.0ZM1747.3 251.8L1749.4 252.0L1750.5 256.1L1748.9 256.1Z" fill="#b5b5b5"/>
<path d="M1646.0 249.1L1643.8 253.9L1647.0 257.1L1650.8 260.3L1652.9 264.6L1655.1 268.4L1652.9 271.6L1654.0 276.9L1657.8 277.5L1660.4 275.9L1661.5 281.7L1661.0 287.1L1658.8 292.4L1657.8 296.2L1656.1 303.1L1655.1 309.6L1655.6 313.9L1652.9 318.1L1651.3 323.5L1650.8 332.0L1650.8 340.0L1650.8 336.4L1649.7 346.1L1650.3 353.5M1606.4 269.4L1607.4 273.2L1610.1 274.3L1608.0 277.5L1608.0 280.1L1612.8 282.8L1620.3 286.6L1624.6 286.0L1629.9 288.2L1632.1 291.4L1636.3 290.3L1642.8 289.8L1646.0 291.4L1651.3 294.6L1657.8 296.2M1623.5 295.7L1621.9 301.0L1622.4 304.8L1619.2 308.5L1612.8 311.7L1606.4 314.9L1603.7 319.2L1602.1 322.4L1602.6 328.8M1631.5 310.6L1628.9 312.8L1623.5 314.9L1620.3 319.2L1616.5 320.3L1614.9 322.4L1608.5 324.0L1608.0 325.6M1583.9 340.0L1581.8 337.4L1578.0 334.2L1576.9 328.8L1578.0 325.1L1583.4 322.9L1588.2 323.5L1591.4 322.4L1596.2 322.9L1597.8 325.6L1599.4 328.3L1602.6 328.8M1576.9 270.0L1579.6 275.3L1583.4 279.6L1584.4 282.3L1580.7 281.2L1576.4 284.4L1571.6 285.0L1569.4 290.3L1564.6 292.4L1563.6 295.7L1565.2 299.9L1563.0 301.0M1576.9 330.0L1578.0 334.3L1583.9 337.5L1590.3 341.2L1591.9 343.9L1596.2 348.2L1598.3 352.5L1594.6 355.2L1590.3 357.8L1588.2 361.0L1581.8 364.3L1575.3 368.0L1568.9 369.6L1566.2 377.1L1564.1 383.5L1564.6 387.8L1570.0 396.4L1575.3 400.6L1579.6 407.1L1585.0 414.6L1589.3 419.4M1562.7 355.2L1568.4 356.2L1566.2 359.4L1567.3 366.4L1568.9 369.6M1716.8 249.1L1716.8 256.1L1715.2 265.2L1718.4 272.1L1721.0 278.5L1723.2 285.0L1722.1 291.4L1723.7 297.8L1725.3 301.0L1729.6 301.5L1732.8 298.3L1737.1 295.7L1739.8 294.1M1691.6 298.9L1690.5 309.6L1690.0 320.3L1688.3 330.0L1688.8 341.8L1693.1 347.1L1695.0 349.8L1690.0 343.4L1696.4 350.9M1563.3 552.2L1565.7 553.5L1567.8 554.1L1571.1 552.2" stroke="#97b6e1" stroke-width="1.5"/>
<path d="M1665.8 249.1L1667.4 255.0L1666.8 261.4L1666.3 265.2L1668.5 264.1L1670.6 266.2L1670.8 282.8L1670.6 297.8L1667.4 310.6L1663.6 324.6L1663.1 340.0L1664.2 340.7L1663.6 354.6L1664.2 357.8L1657.2 361.6L1658.3 364.3M1670.6 297.8L1695.0 298.7L1693.7 298.7L1726.9 299.4L1730.7 296.2L1736.0 293.5L1740.3 292.2M1663.6 324.6L1683.4 326.2L1695.0 325.6L1700.7 325.8L1724.8 326.2L1725.3 331.0L1726.4 334.7M1704.4 249.1L1700.2 258.2L1697.0 265.7L1695.4 274.3L1693.7 282.8L1691.6 290.3L1691.6 294.6L1693.7 298.3M1736.0 249.1L1736.6 271.0L1739.2 277.5L1742.4 282.8L1744.1 285.5M1712.5 326.7L1712.5 340.0L1713.0 341.8L1712.5 350.9M1562.7 326.9L1610.1 326.9L1613.3 330.4L1617.6 333.1L1619.2 336.3L1619.2 340.0L1617.6 332.1L1619.8 337.5L1620.3 342.8L1623.5 347.1L1628.9 349.8L1628.9 351.9L1624.6 356.8L1621.4 361.0L1617.1 365.3L1618.1 369.6L1614.9 373.9L1615.5 379.2L1619.2 384.6L1623.5 389.9L1628.9 396.9L1623.5 400.1L1618.7 403.6M1628.9 351.9L1651.9 365.3M1562.7 412.9L1597.8 412.9L1600.0 409.7L1604.2 409.0L1608.5 409.7M1597.8 412.9L1598.7 430.0L1599.1 441.4L1600.0 460.1L1618.1 460.5M1597.8 477.8L1607.4 476.2M1562.7 528.7L1591.9 528.7" stroke="#000" stroke-width="1.5" stroke-linecap="butt"/>
<path d="M1562.7 263.0L1567.8 263.0L1571.1 258.2L1575.3 250.7L1576.4 249.1" stroke="#000" stroke-width="1.35" stroke-dasharray="5.3 2.3" stroke-linecap="butt"/>
<path d="M1791.7 249.4L1786.3 251.8L1781.0 253.9L1777.8 258.2L1773.5 259.3L1769.2 260.3L1764.9 261.4L1760.6 263.0L1758.5 265.7L1755.3 266.8L1754.2 271.0L1751.0 273.2L1748.9 275.3L1747.8 279.6L1745.7 282.8L1744.1 286.0L1741.4 290.3L1740.3 293.5L1740.8 297.8L1742.4 301.0L1745.7 299.9L1748.3 301.5L1746.7 304.2L1743.5 304.8L1740.3 306.4L1738.7 309.6L1736.0 311.7L1734.4 314.4L1737.1 317.1L1741.4 316.5L1743.5 319.2L1745.7 322.4L1747.3 325.6L1747.8 329.9L1749.4 334.2L1753.1 336.3L1758.5 335.8L1762.8 334.7L1763.9 331.0L1762.8 326.7L1760.6 324.6L1758.0 324.6L1759.6 322.9L1762.8 323.5L1764.9 326.7L1766.5 331.0L1767.1 336.3L1767.1 336.4L1765.5 341.8L1764.4 344.4L1764.9 339.1L1759.6 340.2L1754.2 341.8L1749.9 343.9L1745.7 345.0L1743.5 342.0L1744.8 339.1L1741.4 340.2L1738.2 342.3L1735.0 344.4L1732.3 346.1L1727.5 347.1L1723.2 347.7L1720.0 349.3L1712.5 350.9L1703.9 351.9L1696.4 354.1L1690.0 355.2L1686.6 355.7L1680.2 354.1L1674.9 357.3L1668.5 359.4L1662.0 362.1L1658.3 364.3L1654.5 368.5L1649.2 372.8L1644.9 376.0L1642.8 380.3L1640.6 384.6L1643.8 386.7L1648.1 385.1L1649.7 389.9L1649.2 394.2L1647.0 399.6L1644.9 404.9L1643.8 410.3L1640.6 416.7L1636.3 422.0L1632.1 426.3L1628.9 432.8L1626.7 438.2L1623.5 442.5L1621.4 443.0L1621.9 439.3L1623.5 435.0L1619.2 433.4L1616.0 433.9L1611.7 430.7L1608.5 427.5L1606.4 425.9L1607.4 428.6L1608.5 433.9L1609.6 438.2L1611.7 441.4L1614.9 445.7L1618.1 448.4L1619.2 452.1L1619.2 457.5L1618.7 462.8L1616.0 468.2L1612.8 473.5L1609.6 478.9L1606.4 484.2L1604.2 489.6L1602.1 494.9L1598.9 501.3L1595.7 506.7L1592.5 509.9L1590.9 505.6L1590.9 500.3L1592.5 494.9L1594.6 489.6L1597.8 484.2L1600.0 479.9L1595.7 477.8L1591.9 473.5L1589.3 468.2L1586.0 462.8L1583.9 457.5L1582.3 452.1L1581.8 444.6L1582.3 438.2L1583.9 432.8L1587.1 427.5L1591.4 423.2L1594.6 420.0L1590.3 420.0L1587.1 423.2L1582.8 427.5L1580.2 432.8L1578.5 438.2L1577.7 444.6L1578.0 452.1L1579.1 457.5L1580.7 462.8L1582.3 468.2L1583.4 475.7L1583.9 482.1L1583.4 489.6L1583.9 497.1L1583.4 505.6L1583.9 513.1L1585.0 512.8L1591.9 515.5L1592.5 521.4L1594.6 527.8L1596.7 534.3L1594.6 540.7L1590.3 542.8L1586.0 542.8L1581.8 545.0L1576.4 547.1L1571.1 548.7L1572.1 550.8L1579.6 550.3L1587.1 549.8L1590.3 551.4L1590.9 559.9L1593.5 563.1L1590.3 569.6L1587.1 571.7L1581.8 569.6L1576.4 565.3L1572.1 565.3L1567.8 566.4L1572.1 569.6L1577.5 572.8L1576.4 578.1L1573.2 584.0" stroke="#000" stroke-width="1.7"/>
<path d="M1792.2 250.3L1789.0 250.1L1786.9 250.7L1782.8 251.3L1780.3 251.2L1778.6 252.6L1776.1 255.6L1772.6 256.0L1771.1 256.2L1768.3 255.8L1766.5 257.9L1763.3 259.2L1761.4 261.1L1758.2 262.8" stroke="#000" stroke-width="7.5"/>
<path d="M1768.7 250.7L1771.4 253.9L1772.8 253.1L1776.2 252.6L1778.0 254.5L1780.2 252.2L1783.3 252.0" stroke="#000" stroke-width="5.5"/>
<path d="M1758.5 263.0L1760.4 260.6L1762.9 258.7L1764.6 257.6L1761.5 259.2L1759.9 262.3" stroke="#000" stroke-width="4.0"/>
<path d="M1758.5 263.0L1755.2 265.4L1755.9 268.4L1754.0 270.0L1752.2 273.0L1749.9 274.1L1748.3 277.1L1747.5 278.5" stroke="#000" stroke-width="3.0"/>
<path d="M1748.3 278.5L1747.4 280.3L1745.9 283.3L1744.5 285.5L1742.5 287.6L1741.5 290.4L1740.6 292.4L1741.7 295.5L1741.9 297.7L1743.5 301.8L1747.8 301.3L1745.8 302.8L1743.9 305.3L1742.4 306.2L1739.8 307.3L1738.0 309.1L1737.4 311.6" stroke="#000" stroke-width="2.2"/>
<path d="M1737.1 311.2L1734.2 314.4L1737.6 316.9L1740.6 316.5" stroke="#000" stroke-width="3.6"/>
<path d="M1740.3 316.0L1742.0 318.1L1743.8 319.7L1745.4 322.4L1746.0 325.0L1745.3 326.8L1747.3 330.0L1748.3 332.2L1749.4 334.5L1751.7 335.7L1753.5 336.8L1756.4 336.7L1758.3 336.4L1761.3 335.6L1763.8 335.2" stroke="#000" stroke-width="2.4"/>
<path d="M1758.5 324.6L1761.2 324.6L1762.9 327.6L1764.5 331.0" stroke="#000" stroke-width="2.0"/>
<path d="M1757.9 324.8L1759.9 324.0" stroke="#000" stroke-width="2.6"/>
<path d="M1759.6 322.9L1763.6 323.1L1765.8 326.8L1766.3 328.7L1767.0 331.3L1767.2 334.2L1766.8 336.5L1767.0 336.6L1766.0 339.3L1765.6 341.3" stroke="#000" stroke-width="2.0"/>
<path d="M1789.8 253.4L1790.4 253.4" stroke="#000" stroke-width="2.4"/>
<path d="M1795.4 254.4L1796.5 255.7" stroke="#000" stroke-width="2.4"/>
<path d="M1798.6 253.7L1800.0 252.5" stroke="#000" stroke-width="1.6"/>
<path d="M1746.5 288.9L1746.7 288.7" stroke="#000" stroke-width="2.2"/>
<path d="M1723.4 348.0L1723.2 345.2L1723.4 343.0L1723.6 339.3L1723.6 335.7" stroke="#000" stroke-width="4.4"/>
<path d="M1727.2 346.6L1726.7 343.8L1726.2 341.8L1727.2 336.7" stroke="#000" stroke-width="4.4"/>
<path d="M1731.2 345.5L1730.9 340.5L1729.9 338.3" stroke="#000" stroke-width="3.2"/>
<path d="M1722.1 348.7L1724.9 349.0L1728.0 347.5L1730.4 347.1L1732.0 345.4L1735.7 344.2L1739.5 342.4L1740.8 339.7L1743.2 337.5L1743.8 337.4L1746.7 335.6" stroke="#000" stroke-width="2.6"/>
<path d="M1741.9 338.8L1745.4 338.2L1747.0 335.2L1747.8 332.3" stroke="#000" stroke-width="4.2"/>
<path d="M1737.1 343.4L1741.2 341.0L1744.3 340.9L1745.3 342.4" stroke="#000" stroke-width="4.0"/>
<path d="M1736.0 348.7L1739.0 347.4L1740.2 345.7L1744.4 344.4" stroke="#000" stroke-width="3.0"/>
<path d="M1748.3 333.0L1749.9 335.5L1753.8 337.2L1756.8 336.5L1759.9 336.8L1761.2 335.7L1763.6 335.3" stroke="#000" stroke-width="2.2"/>
<path d="M1764.9 339.1L1762.6 339.5L1759.3 340.0L1757.4 341.0L1754.3 342.0L1752.2 343.1L1750.2 343.5L1748.1 344.3L1745.7 345.0L1743.3 342.7" stroke="#000" stroke-width="2.4"/>
<path d="M1737.1 349.8L1739.7 348.6L1742.7 347.9L1744.6 347.0L1747.7 347.2" stroke="#000" stroke-width="2.2"/>
<path d="M1736.0 348.7L1739.1 347.2" stroke="#000" stroke-width="2.0"/>
<path d="M1718.7 357.6L1718.2 359.6" stroke="#000" stroke-width="3.2"/>
<path d="M1690.0 366.9L1692.5 365.7L1695.7 364.5L1697.5 364.1L1699.4 362.3L1702.4 361.0L1704.6 360.0" stroke="#000" stroke-width="3.4"/>
<path d="M1690.0 371.2L1691.7 370.7L1695.3 368.9L1697.1 368.5L1700.7 366.3L1702.4 365.9L1705.0 364.5L1707.3 363.7L1711.4 361.5" stroke="#000" stroke-width="3.0"/>
<path d="M1672.7 367.7L1675.1 367.6L1679.0 366.8L1680.4 366.3L1685.0 366.1L1687.4 363.8L1690.5 363.5L1692.7 363.9L1695.4 361.5" stroke="#000" stroke-width="2.6"/>
<path d="M1666.3 370.7L1669.3 370.5L1672.3 369.5L1675.9 367.1" stroke="#000" stroke-width="2.4"/>
<path d="M1658.3 364.3L1662.2 361.6L1663.7 361.2L1665.8 360.0L1668.5 359.9L1671.0 358.5L1672.7 358.0L1675.0 357.5L1678.0 355.8L1679.7 354.6L1683.1 355.2L1686.7 356.2L1689.5 355.7L1692.0 355.5L1694.7 355.5L1696.4 353.8L1698.6 353.4L1701.7 352.5L1704.1 352.3L1706.3 352.0L1709.2 351.0L1712.6 350.8L1715.4 350.5L1717.3 350.3L1719.5 349.7" stroke="#000" stroke-width="2.4"/>
<path d="M1657.8 364.8L1655.1 366.1L1654.8 369.1L1651.1 370.1L1650.0 373.1L1647.9 373.7L1645.7 375.5L1643.7 377.8L1643.2 380.0L1641.0 383.4L1644.4 386.8L1648.5 385.0" stroke="#000" stroke-width="2.8"/>
<path d="M1647.9 385.1L1649.4 387.6L1649.9 390.1L1649.6 394.0L1647.5 396.1L1646.7 398.7L1646.9 402.2L1645.6 404.0L1644.5 408.3L1644.3 410.1L1642.9 411.7L1641.3 413.9L1640.6 416.5L1640.1 417.9L1637.5 419.9L1635.9 421.7L1633.9 424.2L1631.4 427.1L1630.9 429.3L1630.3 431.0L1628.8 433.6L1627.1 435.8L1626.3 438.5L1625.6 439.6L1623.2 441.4L1621.1 442.0L1622.0 440.1L1623.3 434.9" stroke="#000" stroke-width="2.6"/>
<path d="M1646.0 380.3L1649.2 381.1L1648.4 384.8" stroke="#000" stroke-width="2.0"/>
<path d="M1608.5 409.7L1606.4 411.1L1605.8 414.3L1604.4 415.5L1603.7 416.9L1602.6 422.6L1605.1 424.0L1607.5 429.4" stroke="#000" stroke-width="2.6"/>
<path d="M1600.0 409.7L1604.3 408.8L1608.1 409.3" stroke="#000" stroke-width="2.0"/>
<path d="M1606.4 426.2L1609.0 427.7L1612.2 430.2L1613.6 431.8L1615.9 433.4L1619.0 433.4L1621.1 433.8L1623.0 435.7" stroke="#000" stroke-width="2.2"/>
<path d="M1607.4 428.6L1607.6 431.2L1608.4 433.9L1608.7 435.9L1609.4 438.2L1612.4 441.7L1613.8 443.3L1614.4 445.7L1618.1 448.4L1619.1 452.2L1619.6 455.2L1619.2 457.4L1619.5 459.8L1618.4 462.6" stroke="#000" stroke-width="2.4"/>
<path d="M1616.5 451.0L1615.3 455.8L1618.7 456.1" stroke="#000" stroke-width="3.2"/>
<path d="M1619.0 462.8L1616.9 464.7L1615.8 467.4L1614.5 471.0L1612.6 472.7L1611.8 475.4L1609.3 478.5L1608.0 480.8L1606.4 483.9L1605.9 487.0L1604.9 489.8L1603.6 492.4L1602.0 495.5L1601.3 497.9L1600.4 499.6L1598.5 501.9L1597.1 503.4L1594.9 506.1L1592.2 510.2" stroke="#000" stroke-width="3.0"/>
<path d="M1614.9 467.1L1613.5 468.8L1612.7 471.4L1610.7 473.0L1609.5 475.5L1609.1 478.3L1607.6 479.6L1606.1 482.1L1604.8 484.0L1603.8 487.3L1603.1 488.8L1601.9 491.2L1601.3 493.8L1600.4 496.3L1598.5 497.9L1598.3 500.2L1596.5 502.5L1595.6 505.4L1594.1 507.7" stroke="#000" stroke-width="1.6"/>
<path d="M1592.7 509.9L1592.0 507.1L1591.6 505.5L1590.3 503.8L1590.2 500.4L1591.8 498.3L1592.5 494.4L1593.3 491.7L1594.9 489.3L1596.9 486.4L1597.8 483.8L1600.0 482.7L1600.8 480.2" stroke="#000" stroke-width="2.6"/>
<path d="M1594.6 420.5L1592.6 421.5L1591.5 423.7L1588.2 425.3L1586.4 428.4L1586.5 429.9L1585.0 432.5" stroke="#000" stroke-width="3.4"/>
<path d="M1590.3 421.1L1588.8 423.1L1586.8 424.3L1583.9 425.0L1581.8 428.2L1578.5 428.9L1576.1 429.3L1573.9 430.5L1574.8 433.7L1575.2 436.9L1575.6 439.5L1575.1 441.7L1575.7 444.1L1576.2 445.9L1575.1 448.9L1576.6 451.3L1575.7 456.1" stroke="#000" stroke-width="3.0"/>
<path d="M1580.2 432.8L1579.4 435.8L1578.8 438.0L1578.6 441.2L1577.9 444.1L1578.1 447.3L1578.4 450.0L1578.2 452.5L1578.8 454.9L1578.8 457.5L1580.3 459.8L1581.2 462.9L1581.4 464.9L1582.2 467.8L1582.8 471.1L1583.5 473.3L1583.2 475.2L1583.8 478.9L1584.1 481.9L1584.2 484.3L1583.4 486.8L1583.6 490.0L1583.2 492.2L1584.0 494.3L1583.4 497.1L1584.1 500.3L1583.9 502.7L1583.4 505.7L1584.1 507.9L1583.5 510.7L1584.4 512.8" stroke="#000" stroke-width="2.4"/>
<path d="M1584.4 432.8L1586.0 431.3L1589.4 431.4L1587.6 433.1L1587.3 436.3L1590.1 438.1L1587.1 439.2L1586.6 441.7L1583.6 438.8" stroke="#000" stroke-width="4.0"/>
<path d="M1583.0 443.0L1585.6 443.8L1587.2 443.4L1587.5 445.1L1585.3 446.7L1588.6 448.7L1591.8 452.3L1592.0 455.8L1590.6 456.4L1588.2 456.8L1584.4 455.6" stroke="#000" stroke-width="4.2"/>
<path d="M1585.5 461.2L1588.4 463.4L1590.1 463.2L1592.5 462.9L1595.4 463.0L1594.4 465.5L1591.7 466.9L1594.9 468.5L1596.6 470.5L1597.8 473.8L1596.0 475.4L1594.9 474.9L1593.5 478.2L1591.6 479.2L1595.1 482.4" stroke="#000" stroke-width="4.0"/>
<path d="M1582.3 452.1L1583.5 455.5L1583.7 457.1L1585.0 460.5L1586.6 462.9L1587.3 465.2L1589.9 468.2L1589.8 470.7L1591.5 473.8L1591.7 476.3L1592.3 479.9L1593.3 484.3" stroke="#000" stroke-width="2.6"/>
<path d="M1563.6 441.9L1565.6 445.1L1563.1 446.6" stroke="#000" stroke-width="2.0"/>
<path d="M1562.7 463.9L1565.8 464.6L1568.3 466.8L1569.6 467.7L1573.1 469.0L1575.9 470.0L1578.0 473.3L1580.3 474.0L1581.5 475.3" stroke="#000" stroke-width="3.4"/>
<path d="M1564.6 477.8L1567.2 479.9L1568.2 480.6L1569.8 483.7L1571.7 485.1L1574.3 487.0L1575.6 487.7L1576.3 490.8L1578.7 492.7L1581.3 494.6L1583.1 498.0" stroke="#000" stroke-width="3.4"/>
<path d="M1567.8 493.9L1569.7 496.3L1570.1 497.9L1572.0 500.1L1575.2 500.8L1576.3 503.1L1578.5 504.7L1581.0 506.0" stroke="#000" stroke-width="3.4"/>
<path d="M1562.7 504.6L1565.2 505.0L1568.1 505.4L1571.4 507.7L1571.9 507.6L1574.9 510.7L1576.6 511.4L1578.1 514.9L1581.6 514.4L1582.5 516.2" stroke="#000" stroke-width="3.4"/>
<path d="M1571.1 465.0L1573.3 466.5L1576.2 467.6L1577.7 465.0L1581.0 463.2" stroke="#000" stroke-width="3.4"/>
<path d="M1578.0 494.9L1578.1 496.4L1579.9 499.0L1577.8 501.3L1579.8 503.8L1580.8 504.7" stroke="#000" stroke-width="3.0"/>
<path d="M1585.0 512.8L1587.0 513.8L1589.9 514.2L1591.9 515.7L1591.8 518.8L1592.6 521.4L1593.5 523.9L1593.6 525.7L1594.3 527.7L1595.4 529.4L1596.0 532.1L1597.1 534.7L1597.5 536.4L1598.6 539.0L1599.6 541.2L1599.9 542.8L1601.7 545.2L1602.3 548.4L1603.4 550.2L1604.9 552.2L1605.6 554.9L1606.1 557.1L1607.4 560.0L1607.1 563.1L1607.0 565.9L1606.9 568.5L1607.2 571.1L1606.1 574.2L1604.5 574.7L1602.5 576.1L1599.8 577.2L1597.5 577.9L1595.7 579.5L1593.3 580.6L1589.9 581.9L1587.4 584.1" stroke="#000" stroke-width="2.4"/>
<path d="M1591.4 527.3L1591.2 528.9L1593.3 532.1L1594.4 534.0L1595.0 536.8L1596.4 540.3L1597.5 542.3L1599.4 544.8L1599.2 548.5" stroke="#000" stroke-width="4.5"/>
<path d="M1591.4 500.0L1593.3 499.4L1596.7 500.6L1600.1 500.9L1597.7 503.7L1598.2 505.7L1595.6 508.0L1592.3 509.6L1591.6 506.5L1592.0 503.1L1590.8 499.5" stroke="#000" stroke-width="3.0"/>
<path d="M1576.4 513.9L1579.2 516.9L1577.5 518.0L1580.3 518.1L1582.9 519.3L1584.0 515.5" stroke="#000" stroke-width="2.6"/>
<path d="M1571.1 547.6L1570.9 544.9L1574.3 545.1L1576.5 546.2L1577.4 541.9L1581.7 542.9L1583.8 539.9L1586.9 541.1L1587.6 538.1L1590.5 537.8L1593.1 535.1" stroke="#000" stroke-width="3.2"/>
<path d="M1572.1 550.3L1575.1 549.9L1577.3 550.2L1580.1 549.6L1582.4 549.6L1584.2 549.8L1587.5 549.5L1589.8 551.9L1593.4 551.0L1597.0 550.0L1597.7 552.8L1598.4 555.2L1598.6 558.8L1598.2 561.6L1595.5 562.8L1594.0 564.5L1592.4 566.9L1589.9 569.5L1586.8 571.2L1584.5 570.4L1581.3 569.6L1579.6 568.2L1576.4 565.4L1572.4 565.1L1569.9 565.4L1568.1 566.2L1565.2 566.3L1563.1 567.4" stroke="#000" stroke-width="2.4"/>
<path d="M1589.8 551.4L1590.2 553.0L1590.9 556.4L1590.5 558.6L1591.3 560.7" stroke="#000" stroke-width="4.2"/>
<path d="M1572.1 565.5L1574.8 564.9L1575.8 563.4L1578.8 566.8L1579.8 568.9L1581.9 569.4" stroke="#000" stroke-width="3.6"/>
<path d="M1563.0 566.9L1564.9 568.0L1567.1 568.2L1570.3 569.1L1571.5 569.0L1575.3 571.6L1577.0 573.7L1576.4 574.9L1575.7 578.0L1575.6 580.7L1573.7 582.4L1572.5 584.2" stroke="#000" stroke-width="3.0"/>
<path d="M1563.0 582.4L1566.3 582.7L1568.1 585.0" stroke="#000" stroke-width="2.6"/>
<path d="M1590.3 582.4L1587.4 581.8L1585.1 580.7L1583.0 579.7L1580.8 581.3L1577.8 581.7L1576.6 582.8L1574.2 584.5" stroke="#000" stroke-width="1.4"/>
<path d="M1573.2 469.2L1578.5 472.4L1582.3 475.7M1575.3 488.5L1580.7 493.9L1583.4 497.1" stroke="#97b6e1" stroke-width="0.7" stroke-dasharray="3 4"/>
<path d="M1579.6 573.9L1587.1 573.9L1591.9 568.5L1596.2 564.2L1600.0 561.0L1602.6 551.4L1605.3 556.7L1606.2 566.4L1604.8 573.3L1597.8 577.3L1590.3 581.3L1583.4 579.2L1578.5 581.3Z" fill="#97b6e1"/>
<path d="M1572.7 549.0L1579.6 548.4L1587.1 547.1L1591.4 544.4L1595.7 542.8L1597.8 547.1L1595.7 549.4L1590.3 550.3L1587.1 548.7L1579.6 549.2Z" fill="#97b6e1"/>
<path d="M1739.4 352.7L1743.5 350.6L1749.1 348.8L1752.5 350.3L1751.4 352.3L1746.7 352.3L1744.1 353.8L1741.9 355.7L1740.1 356.8L1740.5 354.6Z" fill="#d2b48c" stroke="#000" stroke-width="2.2"/>
<path d="M1754.8 353.0L1758.5 354.6L1762.8 355.2L1765.5 355.7L1766.0 353.0L1763.9 350.3L1764.9 354.1L1760.6 354.1Z" fill="#000" stroke="#000" stroke-width="1.8"/>
<path d="M1763.3 355.5L1764.7 355.3" stroke="#d2b48c" stroke-width="0.9"/>
</g>
<path d="M1793.7 249.45H1876M1917 249.45H1966.6V584.0H1575.2" stroke="#000" stroke-width="1.25" fill="none"/>
<path d="M1662.5 420.5L1664.9 420.8" stroke="#000" stroke-width="10.6" stroke-linecap="round"/>
<circle cx="1662.5" cy="420.4" r="3.7" fill="#ff0000"/>
<path d="M1592.80 249.0v-8.2M1592.80 584.0v8.2M1650.28 249.0v-8.2M1650.28 584.0v8.2M1707.76 249.0v-8.2M1707.76 584.0v8.2M1765.24 249.0v-8.2M1765.24 584.0v8.2M1822.72 249.0v-8.2M1822.72 584.0v8.2M1880.20 249.0v-8.2M1880.20 584.0v8.2M1937.68 249.0v-8.2M1937.68 584.0v8.2M1562.7 549.30h-8.2M1966.8 549.30h8.2M1562.7 477.49h-8.2M1966.8 477.49h8.2M1562.7 403.70h-8.2M1966.8 403.70h8.2M1562.7 327.71h-8.2M1966.8 327.71h8.2M1562.7 249.30h-8.2M1966.8 249.30h8.2" stroke="#000" stroke-width="2.8" fill="none"/>
<path d="M1564.06 249.0v-2.8M1564.06 584.0v2.8M1578.43 249.0v-2.8M1578.43 584.0v2.8M1607.17 249.0v-2.8M1607.17 584.0v2.8M1621.54 249.0v-2.8M1621.54 584.0v2.8M1635.91 249.0v-2.8M1635.91 584.0v2.8M1664.65 249.0v-2.8M1664.65 584.0v2.8M1679.02 249.0v-2.8M1679.02 584.0v2.8M1693.39 249.0v-2.8M1693.39 584.0v2.8M1722.13 249.0v-2.8M1722.13 584.0v2.8M1736.50 249.0v-2.8M1736.50 584.0v2.8M1750.87 249.0v-2.8M1750.87 584.0v2.8M1779.61 249.0v-2.8M1779.61 584.0v2.8M1793.98 249.0v-2.8M1793.98 584.0v2.8M1808.35 249.0v-2.8M1808.35 584.0v2.8M1837.09 249.0v-2.8M1837.09 584.0v2.8M1851.46 249.0v-2.8M1851.46 584.0v2.8M1865.83 249.0v-2.8M1865.83 584.0v2.8M1894.57 249.0v-2.8M1894.57 584.0v2.8M1908.94 249.0v-2.8M1908.94 584.0v2.8M1923.31 249.0v-2.8M1923.31 584.0v2.8M1952.05 249.0v-2.8M1952.05 584.0v2.8M1966.42 249.0v-2.8M1966.42 584.0v2.8M1562.7 584.52h-2.8M1966.8 584.52h2.8M1562.7 566.96h-2.8M1966.8 566.96h2.8M1562.7 531.52h-2.8M1966.8 531.52h2.8M1562.7 513.63h-2.8M1966.8 513.63h2.8M1562.7 495.62h-2.8M1966.8 495.62h2.8M1562.7 459.24h-2.8M1966.8 459.24h2.8M1562.7 440.86h-2.8M1966.8 440.86h2.8M1562.7 422.35h-2.8M1966.8 422.35h2.8M1562.7 384.92h-2.8M1966.8 384.92h2.8M1562.7 366.00h-2.8M1966.8 366.00h2.8M1562.7 346.93h-2.8M1966.8 346.93h2.8M1562.7 308.35h-2.8M1966.8 308.35h2.8M1562.7 288.83h-2.8M1966.8 288.83h2.8M1562.7 269.15h-2.8M1966.8 269.15h2.8" stroke="#000" stroke-width="1.5" fill="none"/>
<text x="1547.10" y="559.30" font-size="23.54" text-anchor="end" textLength="56.01" lengthAdjust="spacingAndGlyphs" fill="#000">36°N</text>
<text x="1547.10" y="487.49" font-size="23.54" text-anchor="end" textLength="56.01" lengthAdjust="spacingAndGlyphs" fill="#000">38°N</text>
<text x="1547.10" y="413.70" font-size="23.54" text-anchor="end" textLength="56.01" lengthAdjust="spacingAndGlyphs" fill="#000">40°N</text>
<text x="1547.10" y="337.71" font-size="23.54" text-anchor="end" textLength="56.01" lengthAdjust="spacingAndGlyphs" fill="#000">42°N</text>
<text x="1547.10" y="259.30" font-size="23.54" text-anchor="end" textLength="56.01" lengthAdjust="spacingAndGlyphs" fill="#000">44°N</text>
<text x="1590.30" y="638.60" font-size="23.54" text-anchor="middle" textLength="61.35" lengthAdjust="spacingAndGlyphs" transform="rotate(-45 1590.30 630.50)" fill="#000">76°W</text>
<text x="1647.78" y="638.60" font-size="23.54" text-anchor="middle" textLength="61.35" lengthAdjust="spacingAndGlyphs" transform="rotate(-45 1647.78 630.50)" fill="#000">74°W</text>
<text x="1705.26" y="638.60" font-size="23.54" text-anchor="middle" textLength="61.35" lengthAdjust="spacingAndGlyphs" transform="rotate(-45 1705.26 630.50)" fill="#000">72°W</text>
<text x="1762.74" y="638.60" font-size="23.54" text-anchor="middle" textLength="61.35" lengthAdjust="spacingAndGlyphs" transform="rotate(-45 1762.74 630.50)" fill="#000">70°W</text>
<text x="1820.22" y="638.60" font-size="23.54" text-anchor="middle" textLength="61.35" lengthAdjust="spacingAndGlyphs" transform="rotate(-45 1820.22 630.50)" fill="#000">68°W</text>
<text x="1877.70" y="638.60" font-size="23.54" text-anchor="middle" textLength="61.35" lengthAdjust="spacingAndGlyphs" transform="rotate(-45 1877.70 630.50)" fill="#000">66°W</text>
<text x="1935.18" y="638.60" font-size="23.54" text-anchor="middle" textLength="61.35" lengthAdjust="spacingAndGlyphs" transform="rotate(-45 1935.18 630.50)" fill="#000">64°W</text>
<rect x="1682" y="658" width="165" height="143" rx="4.5" fill="#fff" fill-opacity="0.8" stroke="#ccc" stroke-width="1.4"/>
<path d="M1690.3 677.20H1737.9" stroke="#0000ff" stroke-width="2.7"/>
<circle cx="1714.1" cy="677.20" r="6" fill="#0000ff"/>
<text x="1755.00" y="685.70" font-size="23.54" textLength="51.49" lengthAdjust="spacingAndGlyphs" fill="#000">ru43</text>
<path d="M1690.3 711.65H1737.9" stroke="#ff0000" stroke-width="2.7"/>
<circle cx="1714.1" cy="711.65" r="6" fill="#ff0000"/>
<text x="1755.00" y="720.15" font-size="23.54" textLength="71.38" lengthAdjust="spacingAndGlyphs" fill="#000">RTOFS</text>
<path d="M1690.3 746.10H1737.9" stroke="#008000" stroke-width="2.7"/>
<circle cx="1714.1" cy="746.10" r="6" fill="#008000"/>
<text x="1755.00" y="754.60" font-size="23.54" textLength="57.06" lengthAdjust="spacingAndGlyphs" fill="#000">ESPC</text>
<path d="M1690.3 780.55H1737.9" stroke="#ff00ff" stroke-width="2.7"/>
<circle cx="1714.1" cy="780.55" r="6" fill="#ff00ff"/>
<text x="1755.00" y="789.05" font-size="23.54" textLength="82.00" lengthAdjust="spacingAndGlyphs" fill="#000">CMEMS</text>
</svg>
</body></html>
